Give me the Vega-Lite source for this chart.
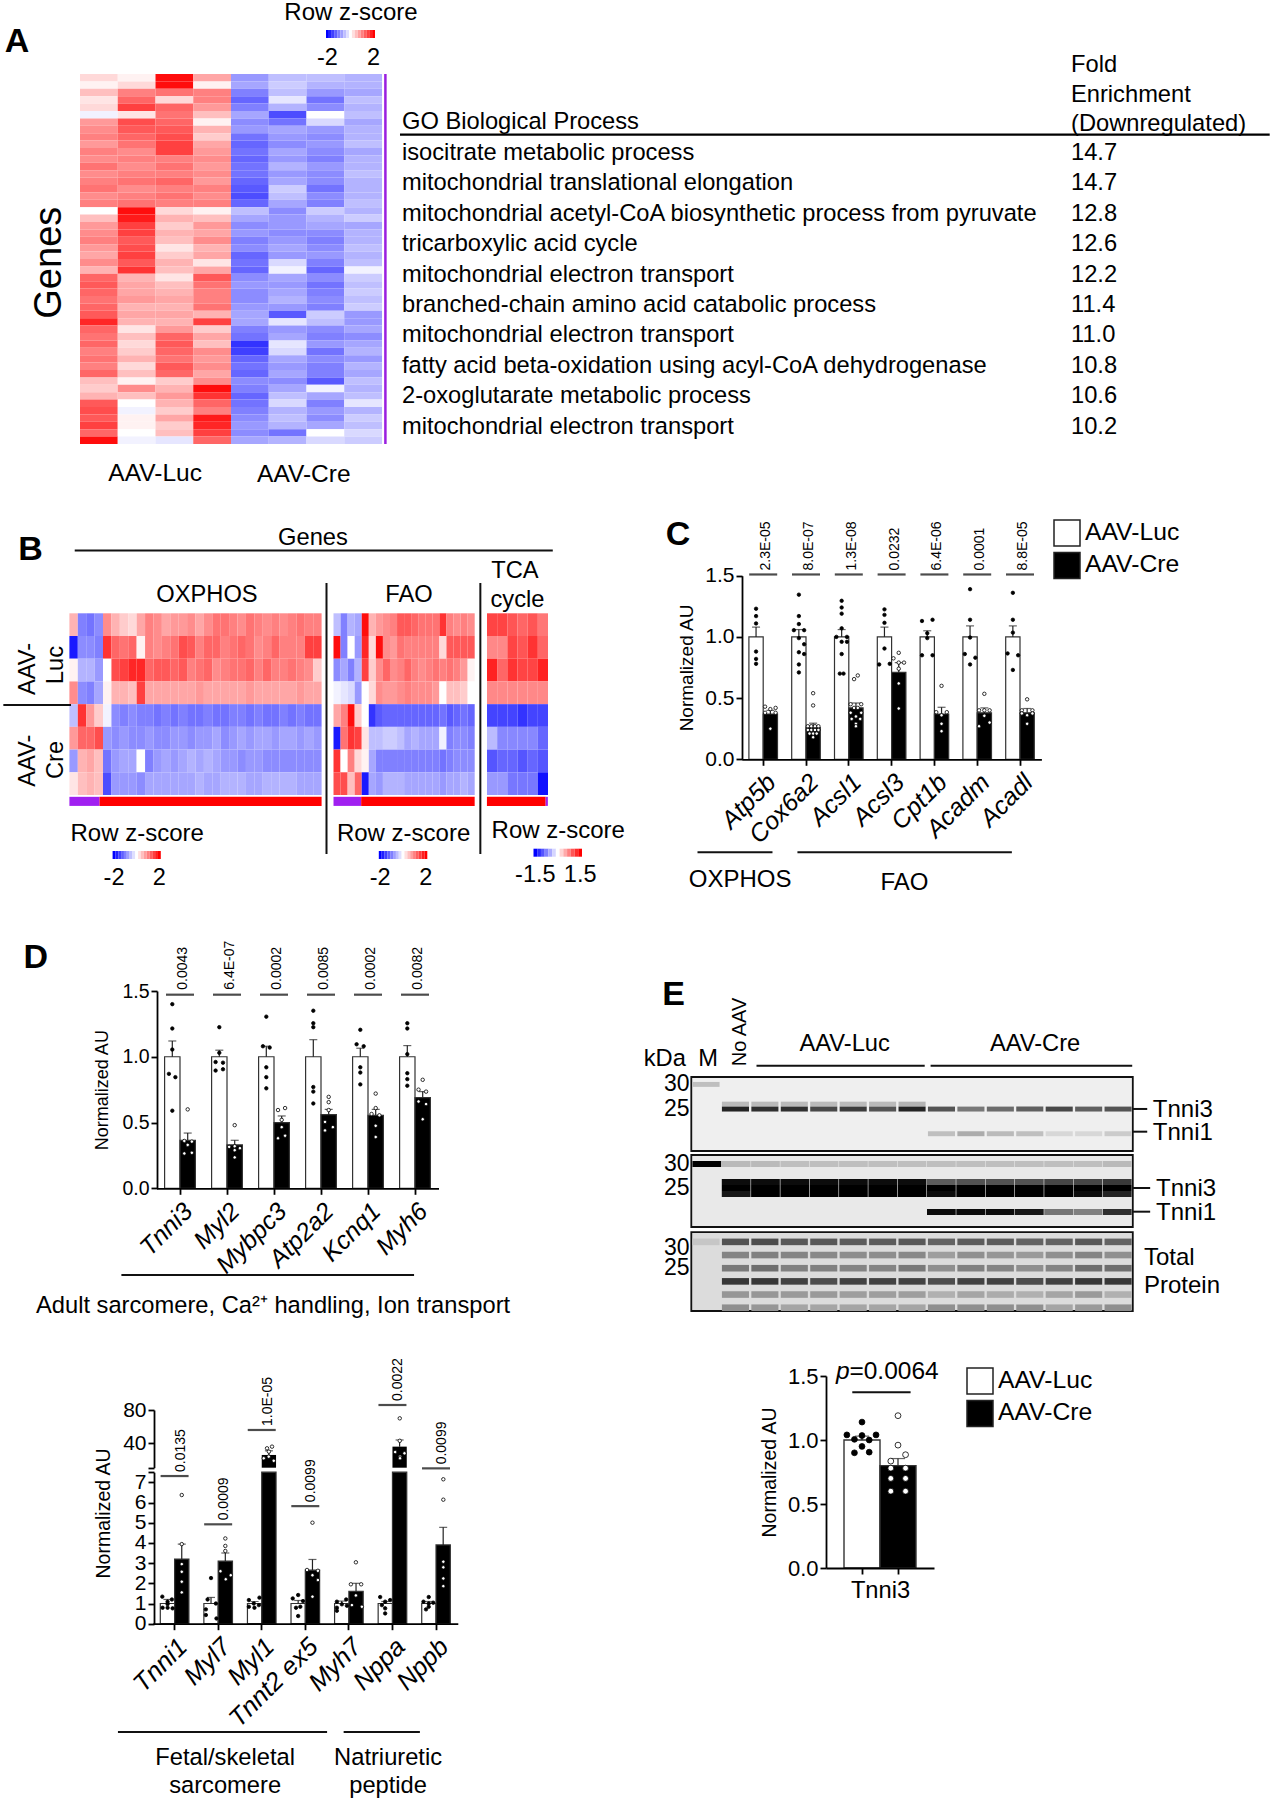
{"$schema":"https://vega.github.io/schema/vega-lite/v6.json","width":1272,"height":1800,"padding":0,"autosize":{"type":"none"},"background":"white",
"config":{"font":"Liberation Sans","view":{"stroke":null},"axis":{"grid":false,"domainColor":"#000","tickColor":"#000","domainWidth":1.8,"tickWidth":1.8,"tickSize":6,"labelColor":"#000","titleColor":"#000","titleFontWeight":"normal","labelOverlap":false,"labelBound":false,"labelFlush":false,"labelLimit":300}},
"resolve":{"scale":{"x":"independent","y":"independent","color":"independent","xOffset":"independent"},"axis":{"x":"independent","y":"independent"},"legend":{"color":"independent"}},
"datasets":{
"heatA":[{"r":1,"c":1,"z":0.3},{"r":1,"c":2,"z":0.1},{"r":1,"c":3,"z":1.9},{"r":1,"c":4,"z":0.7},{"r":1,"c":5,"z":-0.8},{"r":1,"c":6,"z":-0.5},{"r":1,"c":7,"z":-0.5},{"r":1,"c":8,"z":-0.6},
{"r":2,"c":1,"z":0.1},{"r":2,"c":2,"z":0.3},{"r":2,"c":3,"z":1.9},{"r":2,"c":4,"z":0.1},{"r":2,"c":5,"z":-0.7},{"r":2,"c":6,"z":-0.4},{"r":2,"c":7,"z":-0.6},{"r":2,"c":8,"z":-0.6},
{"r":3,"c":1,"z":0.5},{"r":3,"c":2,"z":1.0},{"r":3,"c":3,"z":1.1},{"r":3,"c":4,"z":1.0},{"r":3,"c":5,"z":-1.0},{"r":3,"c":6,"z":-0.5},{"r":3,"c":7,"z":-0.8},{"r":3,"c":8,"z":-0.7},
{"r":4,"c":1,"z":0.2},{"r":4,"c":2,"z":1.2},{"r":4,"c":3,"z":0.3},{"r":4,"c":4,"z":1.0},{"r":4,"c":5,"z":-1.2},{"r":4,"c":6,"z":-0.2},{"r":4,"c":7,"z":-1.1},{"r":4,"c":8,"z":-0.5},
{"r":5,"c":1,"z":0.3},{"r":5,"c":2,"z":1.5},{"r":5,"c":3,"z":1.2},{"r":5,"c":4,"z":0.8},{"r":5,"c":5,"z":-1.0},{"r":5,"c":6,"z":-0.6},{"r":5,"c":7,"z":-0.9},{"r":5,"c":8,"z":-0.6},
{"r":6,"c":1,"z":-0.1},{"r":6,"c":2,"z":0.2},{"r":6,"c":3,"z":1.1},{"r":6,"c":4,"z":0.5},{"r":6,"c":5,"z":-0.7},{"r":6,"c":6,"z":-1.4},{"r":6,"c":7,"z":0},{"r":6,"c":8,"z":-0.5},
{"r":7,"c":1,"z":0.8},{"r":7,"c":2,"z":1.4},{"r":7,"c":3,"z":1.2},{"r":7,"c":4,"z":0.1},{"r":7,"c":5,"z":-0.9},{"r":7,"c":6,"z":-1.1},{"r":7,"c":7,"z":-0.3},{"r":7,"c":8,"z":-0.7},
{"r":8,"c":1,"z":0.9},{"r":8,"c":2,"z":1.3},{"r":8,"c":3,"z":1.3},{"r":8,"c":4,"z":0.6},{"r":8,"c":5,"z":-0.8},{"r":8,"c":6,"z":-0.7},{"r":8,"c":7,"z":-0.8},{"r":8,"c":8,"z":-0.6},
{"r":9,"c":1,"z":1.0},{"r":9,"c":2,"z":1.2},{"r":9,"c":3,"z":1.4},{"r":9,"c":4,"z":0.4},{"r":9,"c":5,"z":-1.1},{"r":9,"c":6,"z":-0.8},{"r":9,"c":7,"z":-0.9},{"r":9,"c":8,"z":-0.6},
{"r":10,"c":1,"z":0.8},{"r":10,"c":2,"z":1.1},{"r":10,"c":3,"z":1.5},{"r":10,"c":4,"z":0.7},{"r":10,"c":5,"z":-1.2},{"r":10,"c":6,"z":-0.9},{"r":10,"c":7,"z":-0.8},{"r":10,"c":8,"z":-0.5},
{"r":11,"c":1,"z":1.0},{"r":11,"c":2,"z":0.9},{"r":11,"c":3,"z":1.5},{"r":11,"c":4,"z":0.8},{"r":11,"c":5,"z":-1.1},{"r":11,"c":6,"z":-0.7},{"r":11,"c":7,"z":-0.9},{"r":11,"c":8,"z":-0.7},
{"r":12,"c":1,"z":0.9},{"r":12,"c":2,"z":1.0},{"r":12,"c":3,"z":1.0},{"r":12,"c":4,"z":0.9},{"r":12,"c":5,"z":-1.2},{"r":12,"c":6,"z":-0.8},{"r":12,"c":7,"z":-1.0},{"r":12,"c":8,"z":-0.6},
{"r":13,"c":1,"z":1.1},{"r":13,"c":2,"z":0.9},{"r":13,"c":3,"z":1.1},{"r":13,"c":4,"z":0.8},{"r":13,"c":5,"z":-1.1},{"r":13,"c":6,"z":-0.6},{"r":13,"c":7,"z":-0.8},{"r":13,"c":8,"z":-0.6},
{"r":14,"c":1,"z":0.9},{"r":14,"c":2,"z":1.0},{"r":14,"c":3,"z":1.0},{"r":14,"c":4,"z":0.9},{"r":14,"c":5,"z":-1.1},{"r":14,"c":6,"z":-0.8},{"r":14,"c":7,"z":-0.9},{"r":14,"c":8,"z":-0.5},
{"r":15,"c":1,"z":1.0},{"r":15,"c":2,"z":1.1},{"r":15,"c":3,"z":1.2},{"r":15,"c":4,"z":0.8},{"r":15,"c":5,"z":-1.2},{"r":15,"c":6,"z":-0.7},{"r":15,"c":7,"z":-0.9},{"r":15,"c":8,"z":-0.6},
{"r":16,"c":1,"z":1.1},{"r":16,"c":2,"z":0.9},{"r":16,"c":3,"z":1.0},{"r":16,"c":4,"z":1.0},{"r":16,"c":5,"z":-1.3},{"r":16,"c":6,"z":-0.4},{"r":16,"c":7,"z":-1.1},{"r":16,"c":8,"z":-0.6},
{"r":17,"c":1,"z":0.9},{"r":17,"c":2,"z":1.0},{"r":17,"c":3,"z":1.1},{"r":17,"c":4,"z":0.9},{"r":17,"c":5,"z":-1.4},{"r":17,"c":6,"z":-0.5},{"r":17,"c":7,"z":-0.9},{"r":17,"c":8,"z":-0.6},
{"r":18,"c":1,"z":1.0},{"r":18,"c":2,"z":1.1},{"r":18,"c":3,"z":1.0},{"r":18,"c":4,"z":1.0},{"r":18,"c":5,"z":-1.2},{"r":18,"c":6,"z":-0.7},{"r":18,"c":7,"z":-1.0},{"r":18,"c":8,"z":-0.5},
{"r":19,"c":1,"z":0},{"r":19,"c":2,"z":1.9},{"r":19,"c":3,"z":0.3},{"r":19,"c":4,"z":0.1},{"r":19,"c":5,"z":-0.5},{"r":19,"c":6,"z":-0.9},{"r":19,"c":7,"z":-0.4},{"r":19,"c":8,"z":-0.6},
{"r":20,"c":1,"z":0.5},{"r":20,"c":2,"z":1.8},{"r":20,"c":3,"z":0.6},{"r":20,"c":4,"z":0.5},{"r":20,"c":5,"z":-0.7},{"r":20,"c":6,"z":-0.8},{"r":20,"c":7,"z":-0.6},{"r":20,"c":8,"z":-0.4},
{"r":21,"c":1,"z":0.8},{"r":21,"c":2,"z":1.5},{"r":21,"c":3,"z":0.4},{"r":21,"c":4,"z":0.8},{"r":21,"c":5,"z":-0.9},{"r":21,"c":6,"z":-0.8},{"r":21,"c":7,"z":-0.7},{"r":21,"c":8,"z":-0.7},
{"r":22,"c":1,"z":0.9},{"r":22,"c":2,"z":1.5},{"r":22,"c":3,"z":0.6},{"r":22,"c":4,"z":0.7},{"r":22,"c":5,"z":-0.8},{"r":22,"c":6,"z":-0.9},{"r":22,"c":7,"z":-0.9},{"r":22,"c":8,"z":-0.6},
{"r":23,"c":1,"z":1.0},{"r":23,"c":2,"z":1.3},{"r":23,"c":3,"z":0.5},{"r":23,"c":4,"z":0.9},{"r":23,"c":5,"z":-1.0},{"r":23,"c":6,"z":-0.8},{"r":23,"c":7,"z":-1.0},{"r":23,"c":8,"z":-0.6},
{"r":24,"c":1,"z":0.8},{"r":24,"c":2,"z":1.4},{"r":24,"c":3,"z":0.2},{"r":24,"c":4,"z":0.6},{"r":24,"c":5,"z":-0.9},{"r":24,"c":6,"z":-0.7},{"r":24,"c":7,"z":-0.9},{"r":24,"c":8,"z":-0.5},
{"r":25,"c":1,"z":0.7},{"r":25,"c":2,"z":1.5},{"r":25,"c":3,"z":0.4},{"r":25,"c":4,"z":0.7},{"r":25,"c":5,"z":-1.2},{"r":25,"c":6,"z":-0.8},{"r":25,"c":7,"z":-0.8},{"r":25,"c":8,"z":-0.6},
{"r":26,"c":1,"z":0.9},{"r":26,"c":2,"z":1.3},{"r":26,"c":3,"z":0.6},{"r":26,"c":4,"z":0.2},{"r":26,"c":5,"z":-1.1},{"r":26,"c":6,"z":-0.3},{"r":26,"c":7,"z":-1.0},{"r":26,"c":8,"z":-0.5},
{"r":27,"c":1,"z":0.6},{"r":27,"c":2,"z":1.6},{"r":27,"c":3,"z":0.5},{"r":27,"c":4,"z":0.7},{"r":27,"c":5,"z":-1.2},{"r":27,"c":6,"z":-0.1},{"r":27,"c":7,"z":-1.2},{"r":27,"c":8,"z":-0.1},
{"r":28,"c":1,"z":1.2},{"r":28,"c":2,"z":0.6},{"r":28,"c":3,"z":0.2},{"r":28,"c":4,"z":1.3},{"r":28,"c":5,"z":-0.9},{"r":28,"c":6,"z":-0.7},{"r":28,"c":7,"z":-0.9},{"r":28,"c":8,"z":-0.4},
{"r":29,"c":1,"z":1.3},{"r":29,"c":2,"z":0.7},{"r":29,"c":3,"z":0.5},{"r":29,"c":4,"z":1.1},{"r":29,"c":5,"z":-0.8},{"r":29,"c":6,"z":-0.8},{"r":29,"c":7,"z":-1.1},{"r":29,"c":8,"z":-0.5},
{"r":30,"c":1,"z":1.2},{"r":30,"c":2,"z":0.7},{"r":30,"c":3,"z":0.6},{"r":30,"c":4,"z":1.0},{"r":30,"c":5,"z":-0.9},{"r":30,"c":6,"z":-0.7},{"r":30,"c":7,"z":-1.0},{"r":30,"c":8,"z":-0.4},
{"r":31,"c":1,"z":1.1},{"r":31,"c":2,"z":0.8},{"r":31,"c":3,"z":0.7},{"r":31,"c":4,"z":1.0},{"r":31,"c":5,"z":-0.9},{"r":31,"c":6,"z":-0.6},{"r":31,"c":7,"z":-0.9},{"r":31,"c":8,"z":-0.5},
{"r":32,"c":1,"z":1.2},{"r":32,"c":2,"z":0.6},{"r":32,"c":3,"z":0.6},{"r":32,"c":4,"z":1.1},{"r":32,"c":5,"z":-0.8},{"r":32,"c":6,"z":-0.8},{"r":32,"c":7,"z":-1.0},{"r":32,"c":8,"z":-0.4},
{"r":33,"c":1,"z":1.3},{"r":33,"c":2,"z":0.7},{"r":33,"c":3,"z":0.7},{"r":33,"c":4,"z":0.6},{"r":33,"c":5,"z":-0.7},{"r":33,"c":6,"z":-1.3},{"r":33,"c":7,"z":-0.4},{"r":33,"c":8,"z":-0.8},
{"r":34,"c":1,"z":1.7},{"r":34,"c":2,"z":0.6},{"r":34,"c":3,"z":0.6},{"r":34,"c":4,"z":1.5},{"r":34,"c":5,"z":-0.7},{"r":34,"c":6,"z":-0.2},{"r":34,"c":7,"z":-0.5},{"r":34,"c":8,"z":-0.8},
{"r":35,"c":1,"z":1.2},{"r":35,"c":2,"z":0.2},{"r":35,"c":3,"z":0.8},{"r":35,"c":4,"z":0.4},{"r":35,"c":5,"z":-1.0},{"r":35,"c":6,"z":-0.8},{"r":35,"c":7,"z":-0.9},{"r":35,"c":8,"z":-0.7},
{"r":36,"c":1,"z":1.1},{"r":36,"c":2,"z":0.5},{"r":36,"c":3,"z":1.2},{"r":36,"c":4,"z":0.7},{"r":36,"c":5,"z":-1.1},{"r":36,"c":6,"z":-0.7},{"r":36,"c":7,"z":-1.0},{"r":36,"c":8,"z":-0.9},
{"r":37,"c":1,"z":1.2},{"r":37,"c":2,"z":0.3},{"r":37,"c":3,"z":1.3},{"r":37,"c":4,"z":0.5},{"r":37,"c":5,"z":-1.6},{"r":37,"c":6,"z":-0.2},{"r":37,"c":7,"z":-0.8},{"r":37,"c":8,"z":-0.7},
{"r":38,"c":1,"z":1.0},{"r":38,"c":2,"z":0.4},{"r":38,"c":3,"z":1.2},{"r":38,"c":4,"z":0.9},{"r":38,"c":5,"z":-1.5},{"r":38,"c":6,"z":-0.3},{"r":38,"c":7,"z":-1.1},{"r":38,"c":8,"z":-0.6},
{"r":39,"c":1,"z":1.1},{"r":39,"c":2,"z":0.6},{"r":39,"c":3,"z":1.1},{"r":39,"c":4,"z":0.8},{"r":39,"c":5,"z":-1.2},{"r":39,"c":6,"z":-0.7},{"r":39,"c":7,"z":-0.9},{"r":39,"c":8,"z":-0.8},
{"r":40,"c":1,"z":1.0},{"r":40,"c":2,"z":0.3},{"r":40,"c":3,"z":1.3},{"r":40,"c":4,"z":0.9},{"r":40,"c":5,"z":-1.1},{"r":40,"c":6,"z":-0.8},{"r":40,"c":7,"z":-1.0},{"r":40,"c":8,"z":-0.6},
{"r":41,"c":1,"z":1.2},{"r":41,"c":2,"z":0.5},{"r":41,"c":3,"z":1.2},{"r":41,"c":4,"z":0.7},{"r":41,"c":5,"z":-1.2},{"r":41,"c":6,"z":-0.7},{"r":41,"c":7,"z":-1.0},{"r":41,"c":8,"z":-0.7},
{"r":42,"c":1,"z":0.5},{"r":42,"c":2,"z":0.1},{"r":42,"c":3,"z":0.4},{"r":42,"c":4,"z":0.9},{"r":42,"c":5,"z":-0.9},{"r":42,"c":6,"z":-0.9},{"r":42,"c":7,"z":-1.3},{"r":42,"c":8,"z":-0.5},
{"r":43,"c":1,"z":0.4},{"r":43,"c":2,"z":0.9},{"r":43,"c":3,"z":0.6},{"r":43,"c":4,"z":1.9},{"r":43,"c":5,"z":-1.0},{"r":43,"c":6,"z":-0.7},{"r":43,"c":7,"z":-0.1},{"r":43,"c":8,"z":-0.6},
{"r":44,"c":1,"z":0.6},{"r":44,"c":2,"z":0.5},{"r":44,"c":3,"z":0.8},{"r":44,"c":4,"z":1.6},{"r":44,"c":5,"z":-1.2},{"r":44,"c":6,"z":-0.5},{"r":44,"c":7,"z":-0.7},{"r":44,"c":8,"z":-0.5},
{"r":45,"c":1,"z":1.3},{"r":45,"c":2,"z":0},{"r":45,"c":3,"z":0.6},{"r":45,"c":4,"z":1.2},{"r":45,"c":5,"z":-1.1},{"r":45,"c":6,"z":-0.3},{"r":45,"c":7,"z":-1.0},{"r":45,"c":8,"z":-0.2},
{"r":46,"c":1,"z":1.4},{"r":46,"c":2,"z":-0.1},{"r":46,"c":3,"z":0.4},{"r":46,"c":4,"z":1.0},{"r":46,"c":5,"z":-1.0},{"r":46,"c":6,"z":-0.6},{"r":46,"c":7,"z":-0.8},{"r":46,"c":8,"z":-0.6},
{"r":47,"c":1,"z":1.3},{"r":47,"c":2,"z":0.1},{"r":47,"c":3,"z":0.7},{"r":47,"c":4,"z":1.8},{"r":47,"c":5,"z":-0.9},{"r":47,"c":6,"z":-0.5},{"r":47,"c":7,"z":-0.9},{"r":47,"c":8,"z":-0.4},
{"r":48,"c":1,"z":1.5},{"r":48,"c":2,"z":0.1},{"r":48,"c":3,"z":0.4},{"r":48,"c":4,"z":1.7},{"r":48,"c":5,"z":-0.8},{"r":48,"c":6,"z":-0.6},{"r":48,"c":7,"z":-0.7},{"r":48,"c":8,"z":-0.5},
{"r":49,"c":1,"z":1.2},{"r":49,"c":2,"z":0},{"r":49,"c":3,"z":0.5},{"r":49,"c":4,"z":1.5},{"r":49,"c":5,"z":-0.9},{"r":49,"c":6,"z":-1.1},{"r":49,"c":7,"z":0},{"r":49,"c":8,"z":-0.3},
{"r":50,"c":1,"z":1.9},{"r":50,"c":2,"z":-0.1},{"r":50,"c":3,"z":-0.2},{"r":50,"c":4,"z":1.2},{"r":50,"c":5,"z":-0.7},{"r":50,"c":6,"z":-0.6},{"r":50,"c":7,"z":-0.3},{"r":50,"c":8,"z":-0.4}],
"heatOx":[{"r":1,"c":1,"z":0.6},{"r":1,"c":2,"z":-1.0},{"r":1,"c":3,"z":-1.1},{"r":1,"c":4,"z":-0.9},{"r":1,"c":5,"z":0.9},{"r":1,"c":6,"z":0.6},{"r":1,"c":7,"z":0.4},{"r":1,"c":8,"z":0.3},{"r":1,"c":9,"z":0.7},{"r":1,"c":10,"z":1.0},{"r":1,"c":11,"z":0.9},{"r":1,"c":12,"z":0.7},{"r":1,"c":13,"z":0.8},{"r":1,"c":14,"z":0.8},{"r":1,"c":15,"z":0.9},{"r":1,"c":16,"z":0.7},{"r":1,"c":17,"z":0.9},{"r":1,"c":18,"z":1.1},{"r":1,"c":19,"z":1.1},{"r":1,"c":20,"z":1.0},{"r":1,"c":21,"z":0.9},{"r":1,"c":22,"z":1.1},{"r":1,"c":23,"z":1.0},{"r":1,"c":24,"z":0.9},{"r":1,"c":25,"z":1.0},{"r":1,"c":26,"z":0.9},{"r":1,"c":27,"z":1.0},{"r":1,"c":28,"z":1.1},{"r":1,"c":29,"z":1.0},{"r":1,"c":30,"z":1.0},
{"r":2,"c":1,"z":-1.8},{"r":2,"c":2,"z":-0.9},{"r":2,"c":3,"z":-0.9},{"r":2,"c":4,"z":-1.0},{"r":2,"c":5,"z":1.6},{"r":2,"c":6,"z":1.2},{"r":2,"c":7,"z":1.1},{"r":2,"c":8,"z":1.2},{"r":2,"c":9,"z":0.1},{"r":2,"c":10,"z":1.0},{"r":2,"c":11,"z":0.9},{"r":2,"c":12,"z":1.0},{"r":2,"c":13,"z":1.1},{"r":2,"c":14,"z":1.4},{"r":2,"c":15,"z":1.3},{"r":2,"c":16,"z":1.0},{"r":2,"c":17,"z":1.2},{"r":2,"c":18,"z":1.2},{"r":2,"c":19,"z":1.0},{"r":2,"c":20,"z":1.1},{"r":2,"c":21,"z":1.2},{"r":2,"c":22,"z":1.1},{"r":2,"c":23,"z":0.9},{"r":2,"c":24,"z":1.0},{"r":2,"c":25,"z":1.2},{"r":2,"c":26,"z":1.0},{"r":2,"c":27,"z":1.0},{"r":2,"c":28,"z":1.0},{"r":2,"c":29,"z":1.5},{"r":2,"c":30,"z":1.5},
{"r":3,"c":1,"z":0.1},{"r":3,"c":2,"z":-0.6},{"r":3,"c":3,"z":-0.6},{"r":3,"c":4,"z":-0.8},{"r":3,"c":5,"z":0},{"r":3,"c":6,"z":1.4},{"r":3,"c":7,"z":1.5},{"r":3,"c":8,"z":1.7},{"r":3,"c":9,"z":1.7},{"r":3,"c":10,"z":1.2},{"r":3,"c":11,"z":1.3},{"r":3,"c":12,"z":1.3},{"r":3,"c":13,"z":1.2},{"r":3,"c":14,"z":1.3},{"r":3,"c":15,"z":1.0},{"r":3,"c":16,"z":1.1},{"r":3,"c":17,"z":1.2},{"r":3,"c":18,"z":0.9},{"r":3,"c":19,"z":1.0},{"r":3,"c":20,"z":1.1},{"r":3,"c":21,"z":1.1},{"r":3,"c":22,"z":1.2},{"r":3,"c":23,"z":1.0},{"r":3,"c":24,"z":1.2},{"r":3,"c":25,"z":1.0},{"r":3,"c":26,"z":1.0},{"r":3,"c":27,"z":1.1},{"r":3,"c":28,"z":1.0},{"r":3,"c":29,"z":0.9},{"r":3,"c":30,"z":0.4},
{"r":4,"c":1,"z":0.9},{"r":4,"c":2,"z":-0.9},{"r":4,"c":3,"z":-1.0},{"r":4,"c":4,"z":-0.7},{"r":4,"c":5,"z":0.1},{"r":4,"c":6,"z":0.6},{"r":4,"c":7,"z":0.6},{"r":4,"c":8,"z":0.5},{"r":4,"c":9,"z":1.5},{"r":4,"c":10,"z":0.7},{"r":4,"c":11,"z":0.7},{"r":4,"c":12,"z":0.7},{"r":4,"c":13,"z":0.7},{"r":4,"c":14,"z":0.7},{"r":4,"c":15,"z":0.7},{"r":4,"c":16,"z":0.8},{"r":4,"c":17,"z":0.7},{"r":4,"c":18,"z":0.7},{"r":4,"c":19,"z":0.7},{"r":4,"c":20,"z":0.7},{"r":4,"c":21,"z":0.7},{"r":4,"c":22,"z":0.8},{"r":4,"c":23,"z":0.7},{"r":4,"c":24,"z":0.7},{"r":4,"c":25,"z":0.7},{"r":4,"c":26,"z":0.7},{"r":4,"c":27,"z":0.7},{"r":4,"c":28,"z":0.8},{"r":4,"c":29,"z":0.7},{"r":4,"c":30,"z":0.7},
{"r":5,"c":1,"z":-0.5},{"r":5,"c":2,"z":1.6},{"r":5,"c":3,"z":0.8},{"r":5,"c":4,"z":0.4},{"r":5,"c":5,"z":-0.1},{"r":5,"c":6,"z":-0.9},{"r":5,"c":7,"z":-1.0},{"r":5,"c":8,"z":-0.9},{"r":5,"c":9,"z":-1.0},{"r":5,"c":10,"z":-1.0},{"r":5,"c":11,"z":-1.1},{"r":5,"c":12,"z":-1.0},{"r":5,"c":13,"z":-1.1},{"r":5,"c":14,"z":-1.0},{"r":5,"c":15,"z":-1.1},{"r":5,"c":16,"z":-1.1},{"r":5,"c":17,"z":-1.0},{"r":5,"c":18,"z":-1.1},{"r":5,"c":19,"z":-1.1},{"r":5,"c":20,"z":-1.0},{"r":5,"c":21,"z":-1.0},{"r":5,"c":22,"z":-1.1},{"r":5,"c":23,"z":-1.0},{"r":5,"c":24,"z":-1.1},{"r":5,"c":25,"z":-1.1},{"r":5,"c":26,"z":-1.0},{"r":5,"c":27,"z":-1.1},{"r":5,"c":28,"z":-1.0},{"r":5,"c":29,"z":-1.1},{"r":5,"c":30,"z":-1.1},
{"r":6,"c":1,"z":0.8},{"r":6,"c":2,"z":1.2},{"r":6,"c":3,"z":1.2},{"r":6,"c":4,"z":1.4},{"r":6,"c":5,"z":-0.8},{"r":6,"c":6,"z":-0.9},{"r":6,"c":7,"z":-0.8},{"r":6,"c":8,"z":-0.9},{"r":6,"c":9,"z":-0.9},{"r":6,"c":10,"z":-0.8},{"r":6,"c":11,"z":-0.9},{"r":6,"c":12,"z":-0.9},{"r":6,"c":13,"z":-0.8},{"r":6,"c":14,"z":-0.8},{"r":6,"c":15,"z":-0.9},{"r":6,"c":16,"z":-0.8},{"r":6,"c":17,"z":-0.8},{"r":6,"c":18,"z":-0.7},{"r":6,"c":19,"z":-0.9},{"r":6,"c":20,"z":-0.8},{"r":6,"c":21,"z":-0.7},{"r":6,"c":22,"z":-0.8},{"r":6,"c":23,"z":-0.7},{"r":6,"c":24,"z":-0.7},{"r":6,"c":25,"z":-0.8},{"r":6,"c":26,"z":-0.7},{"r":6,"c":27,"z":-0.7},{"r":6,"c":28,"z":-0.8},{"r":6,"c":29,"z":-0.7},{"r":6,"c":30,"z":-0.8},
{"r":7,"c":1,"z":-0.8},{"r":7,"c":2,"z":0.6},{"r":7,"c":3,"z":0.7},{"r":7,"c":4,"z":0.5},{"r":7,"c":5,"z":-1.1},{"r":7,"c":6,"z":-0.8},{"r":7,"c":7,"z":-0.7},{"r":7,"c":8,"z":-0.7},{"r":7,"c":9,"z":0},{"r":7,"c":10,"z":-1.0},{"r":7,"c":11,"z":-0.8},{"r":7,"c":12,"z":-0.7},{"r":7,"c":13,"z":-0.8},{"r":7,"c":14,"z":-0.7},{"r":7,"c":15,"z":-0.6},{"r":7,"c":16,"z":-0.7},{"r":7,"c":17,"z":-0.6},{"r":7,"c":18,"z":-0.7},{"r":7,"c":19,"z":-0.8},{"r":7,"c":20,"z":-0.8},{"r":7,"c":21,"z":-0.9},{"r":7,"c":22,"z":-0.8},{"r":7,"c":23,"z":-0.8},{"r":7,"c":24,"z":-0.9},{"r":7,"c":25,"z":-0.9},{"r":7,"c":26,"z":-0.9},{"r":7,"c":27,"z":-0.9},{"r":7,"c":28,"z":-0.9},{"r":7,"c":29,"z":-0.9},{"r":7,"c":30,"z":-0.9},
{"r":8,"c":1,"z":0.2},{"r":8,"c":2,"z":0.5},{"r":8,"c":3,"z":0.6},{"r":8,"c":4,"z":0.5},{"r":8,"c":5,"z":-1.4},{"r":8,"c":6,"z":-0.8},{"r":8,"c":7,"z":-0.8},{"r":8,"c":8,"z":-0.8},{"r":8,"c":9,"z":-0.9},{"r":8,"c":10,"z":-0.7},{"r":8,"c":11,"z":-0.7},{"r":8,"c":12,"z":-0.7},{"r":8,"c":13,"z":-0.7},{"r":8,"c":14,"z":-0.7},{"r":8,"c":15,"z":-0.7},{"r":8,"c":16,"z":-0.6},{"r":8,"c":17,"z":-0.7},{"r":8,"c":18,"z":-0.7},{"r":8,"c":19,"z":-0.6},{"r":8,"c":20,"z":-0.6},{"r":8,"c":21,"z":-0.6},{"r":8,"c":22,"z":-0.7},{"r":8,"c":23,"z":-0.7},{"r":8,"c":24,"z":-0.6},{"r":8,"c":25,"z":-0.6},{"r":8,"c":26,"z":-0.6},{"r":8,"c":27,"z":-0.6},{"r":8,"c":28,"z":-0.7},{"r":8,"c":29,"z":-0.7},{"r":8,"c":30,"z":-0.7}],
"heatFao":[{"r":1,"c":1,"z":-0.5},{"r":1,"c":2,"z":-1.0},{"r":1,"c":3,"z":-0.6},{"r":1,"c":4,"z":-0.7},{"r":1,"c":5,"z":1.9},{"r":1,"c":6,"z":0.6},{"r":1,"c":7,"z":0.8},{"r":1,"c":8,"z":0.9},{"r":1,"c":9,"z":1.0},{"r":1,"c":10,"z":1.3},{"r":1,"c":11,"z":1.3},{"r":1,"c":12,"z":1.2},{"r":1,"c":13,"z":1.1},{"r":1,"c":14,"z":1.1},{"r":1,"c":15,"z":1.1},{"r":1,"c":16,"z":1.6},{"r":1,"c":17,"z":1.0},{"r":1,"c":18,"z":0.9},{"r":1,"c":19,"z":1.0},{"r":1,"c":20,"z":0.9},
{"r":2,"c":1,"z":1.9},{"r":2,"c":2,"z":-1.0},{"r":2,"c":3,"z":0},{"r":2,"c":4,"z":-0.8},{"r":2,"c":5,"z":1.7},{"r":2,"c":6,"z":0.3},{"r":2,"c":7,"z":1.9},{"r":2,"c":8,"z":0.9},{"r":2,"c":9,"z":0.8},{"r":2,"c":10,"z":1.1},{"r":2,"c":11,"z":1.0},{"r":2,"c":12,"z":1.0},{"r":2,"c":13,"z":1.0},{"r":2,"c":14,"z":1.0},{"r":2,"c":15,"z":1.0},{"r":2,"c":16,"z":0.3},{"r":2,"c":17,"z":1.3},{"r":2,"c":18,"z":1.3},{"r":2,"c":19,"z":1.3},{"r":2,"c":20,"z":1.3},
{"r":3,"c":1,"z":-0.9},{"r":3,"c":2,"z":-0.7},{"r":3,"c":3,"z":-1.0},{"r":3,"c":4,"z":-0.6},{"r":3,"c":5,"z":1.5},{"r":3,"c":6,"z":0.4},{"r":3,"c":7,"z":0.9},{"r":3,"c":8,"z":1.2},{"r":3,"c":9,"z":0.9},{"r":3,"c":10,"z":1.0},{"r":3,"c":11,"z":1.2},{"r":3,"c":12,"z":1.0},{"r":3,"c":13,"z":0.9},{"r":3,"c":14,"z":1.0},{"r":3,"c":15,"z":1.1},{"r":3,"c":16,"z":1.0},{"r":3,"c":17,"z":1.1},{"r":3,"c":18,"z":1.0},{"r":3,"c":19,"z":0.8},{"r":3,"c":20,"z":0.1},
{"r":4,"c":1,"z":-0.1},{"r":4,"c":2,"z":-0.2},{"r":4,"c":3,"z":-0.3},{"r":4,"c":4,"z":-0.8},{"r":4,"c":5,"z":0},{"r":4,"c":6,"z":0.3},{"r":4,"c":7,"z":0.9},{"r":4,"c":8,"z":0.8},{"r":4,"c":9,"z":0.8},{"r":4,"c":10,"z":0.9},{"r":4,"c":11,"z":1.0},{"r":4,"c":12,"z":0.9},{"r":4,"c":13,"z":0.9},{"r":4,"c":14,"z":0.9},{"r":4,"c":15,"z":0.8},{"r":4,"c":16,"z":0},{"r":4,"c":17,"z":0.5},{"r":4,"c":18,"z":0.5},{"r":4,"c":19,"z":0.4},{"r":4,"c":20,"z":0},
{"r":5,"c":1,"z":0.7},{"r":5,"c":2,"z":1.0},{"r":5,"c":3,"z":1.9},{"r":5,"c":4,"z":0.4},{"r":5,"c":5,"z":0},{"r":5,"c":6,"z":-1.6},{"r":5,"c":7,"z":-1.3},{"r":5,"c":8,"z":-1.2},{"r":5,"c":9,"z":-1.2},{"r":5,"c":10,"z":-1.2},{"r":5,"c":11,"z":-1.2},{"r":5,"c":12,"z":-1.2},{"r":5,"c":13,"z":-1.2},{"r":5,"c":14,"z":-1.2},{"r":5,"c":15,"z":-1.2},{"r":5,"c":16,"z":-1.1},{"r":5,"c":17,"z":-1.3},{"r":5,"c":18,"z":-1.2},{"r":5,"c":19,"z":-1.1},{"r":5,"c":20,"z":-1.2},
{"r":6,"c":1,"z":-1.8},{"r":6,"c":2,"z":1.1},{"r":6,"c":3,"z":1.6},{"r":6,"c":4,"z":1.5},{"r":6,"c":5,"z":0.2},{"r":6,"c":6,"z":-0.5},{"r":6,"c":7,"z":-0.5},{"r":6,"c":8,"z":-0.4},{"r":6,"c":9,"z":-0.4},{"r":6,"c":10,"z":-0.5},{"r":6,"c":11,"z":-0.7},{"r":6,"c":12,"z":-0.6},{"r":6,"c":13,"z":-0.7},{"r":6,"c":14,"z":-0.7},{"r":6,"c":15,"z":-0.7},{"r":6,"c":16,"z":-0.1},{"r":6,"c":17,"z":-1.0},{"r":6,"c":18,"z":-0.9},{"r":6,"c":19,"z":-0.9},{"r":6,"c":20,"z":-1.0},
{"r":7,"c":1,"z":1.6},{"r":7,"c":2,"z":0},{"r":7,"c":3,"z":1.0},{"r":7,"c":4,"z":0.3},{"r":7,"c":5,"z":0.1},{"r":7,"c":6,"z":-0.7},{"r":7,"c":7,"z":-1.0},{"r":7,"c":8,"z":-1.0},{"r":7,"c":9,"z":-1.0},{"r":7,"c":10,"z":-1.0},{"r":7,"c":11,"z":-1.0},{"r":7,"c":12,"z":-1.0},{"r":7,"c":13,"z":-1.0},{"r":7,"c":14,"z":-1.0},{"r":7,"c":15,"z":-1.0},{"r":7,"c":16,"z":-1.1},{"r":7,"c":17,"z":-1.0},{"r":7,"c":18,"z":-0.9},{"r":7,"c":19,"z":-0.9},{"r":7,"c":20,"z":-0.9},
{"r":8,"c":1,"z":1.4},{"r":8,"c":2,"z":1.4},{"r":8,"c":3,"z":0.5},{"r":8,"c":4,"z":1.2},{"r":8,"c":5,"z":-1.8},{"r":8,"c":6,"z":-0.7},{"r":8,"c":7,"z":-0.8},{"r":8,"c":8,"z":-0.6},{"r":8,"c":9,"z":-0.6},{"r":8,"c":10,"z":-0.6},{"r":8,"c":11,"z":-0.7},{"r":8,"c":12,"z":-0.7},{"r":8,"c":13,"z":-0.7},{"r":8,"c":14,"z":-0.7},{"r":8,"c":15,"z":-0.7},{"r":8,"c":16,"z":-0.8},{"r":8,"c":17,"z":-0.7},{"r":8,"c":18,"z":-0.7},{"r":8,"c":19,"z":-0.6},{"r":8,"c":20,"z":-0.7}],
"heatTca":[{"r":1,"c":1,"z":1.1},{"r":1,"c":2,"z":1.1},{"r":1,"c":3,"z":1.0},{"r":1,"c":4,"z":0.9},{"r":1,"c":5,"z":1.0},{"r":1,"c":6,"z":0.8},{"r":2,"c":1,"z":0.7},{"r":2,"c":2,"z":0.7},{"r":2,"c":3,"z":1.1},{"r":2,"c":4,"z":1.0},{"r":2,"c":5,"z":1.2},{"r":2,"c":6,"z":0.9},{"r":3,"c":1,"z":1.3},{"r":3,"c":2,"z":0.9},{"r":3,"c":3,"z":1.2},{"r":3,"c":4,"z":1.1},{"r":3,"c":5,"z":1.1},{"r":3,"c":6,"z":1.3},{"r":4,"c":1,"z":0.7},{"r":4,"c":2,"z":0.7},{"r":4,"c":3,"z":0.7},{"r":4,"c":4,"z":0.7},{"r":4,"c":5,"z":0.7},{"r":4,"c":6,"z":0.7},{"r":5,"c":1,"z":-1.1},{"r":5,"c":2,"z":-1.1},{"r":5,"c":3,"z":-1.1},{"r":5,"c":4,"z":-1.2},{"r":5,"c":5,"z":-1.1},{"r":5,"c":6,"z":-1.1},{"r":6,"c":1,"z":-0.4},{"r":6,"c":2,"z":-0.7},{"r":6,"c":3,"z":-0.7},{"r":6,"c":4,"z":-0.7},{"r":6,"c":5,"z":-0.7},{"r":6,"c":6,"z":-0.9},{"r":7,"c":1,"z":-1.0},{"r":7,"c":2,"z":-0.9},{"r":7,"c":3,"z":-0.9},{"r":7,"c":4,"z":-1.0},{"r":7,"c":5,"z":-0.9},{"r":7,"c":6,"z":-1.0},{"r":8,"c":1,"z":-0.6},{"r":8,"c":2,"z":-0.6},{"r":8,"c":3,"z":-0.8},{"r":8,"c":4,"z":-0.8},{"r":8,"c":5,"z":-0.8},{"r":8,"c":6,"z":-1.4}],
"key":[{"z":-2},{"z":-1.75},{"z":-1.5},{"z":-1.25},{"z":-1},{"z":-0.75},{"z":-0.5},{"z":-0.25},{"z":0},{"z":0.25},{"z":0.5},{"z":0.75},{"z":1},{"z":1.25},{"z":1.5},{"z":1.75},{"z":2}],
"keyT":[{"z":-1.5},{"z":-1.25},{"z":-1},{"z":-0.75},{"z":-0.5},{"z":-0.25},{"z":0},{"z":0.25},{"z":0.5},{"z":0.75},{"z":1},{"z":1.25},{"z":1.5}],
"sideB":[{"u":0,"u2":4.31,"cl":"a"},{"u":4.31,"u2":36,"cl":"b"},{"u":37.7,"u2":41.65,"cl":"a"},{"u":41.65,"u2":57.85,"cl":"b"},{"u":59.6,"u2":67.98,"cl":"b"},{"u":67.98,"u2":68.3,"cl":"a"}],
"annA":[{"k":"h","t":"A","u":-1.67,"v":-4.6},{"k":"t","t":"AAV-Luc","u":1.99,"v":53.8},{"k":"t","t":"AAV-Cre","u":5.93,"v":54.05},{"k":"g","t":"Genes","u":-0.85,"v":25.5},{"k":"p","u":8.09,"u2":8.09,"v":0,"v2":50}],
"go":[{"rank":1,"process":"isocitrate metabolic process","fold":14.7},{"rank":2,"process":"mitochondrial translational elongation","fold":14.7},{"rank":3,"process":"mitochondrial acetyl-CoA biosynthetic process from pyruvate","fold":12.8},{"rank":4,"process":"tricarboxylic acid cycle","fold":12.6},{"rank":5,"process":"mitochondrial electron transport","fold":12.2},{"rank":6,"process":"branched-chain amino acid catabolic process","fold":11.4},{"rank":7,"process":"mitochondrial electron transport","fold":11.0},{"rank":8,"process":"fatty acid beta-oxidation using acyl-CoA dehydrogenase","fold":10.8},{"rank":9,"process":"2-oxoglutarate metabolic process","fold":10.6},{"rank":10,"process":"mitochondrial electron transport","fold":10.2}],
"goHead":[{"t":"GO Biological Process","col":0,"rank":-0.02},{"t":"Fold","col":1,"rank":-1.88},{"t":"Enrichment","col":1,"rank":-0.925},{"t":"(Downregulated)","col":1,"rank":0.03}],
"annB":[{"k":"h","t":"B","u":-5.54,"v":-2.79},{"k":"t","t":"Genes","u":34.77,"v":-3.4},{"k":"t","t":"OXPHOS","u":19.64,"v":-0.89},{"k":"t","t":"FAO","u":48.47,"v":-0.89},{"k":"t","t":"TCA","u":63.6,"v":-1.91},{"k":"t","t":"cycle","u":63.96,"v":-0.63},{"k":"r","t":"AAV-","u":-6.12,"v":2.45},{"k":"r","t":"Luc","u":-2.06,"v":2.28},{"k":"r","t":"AAV-","u":-6.12,"v":6.49},{"k":"r","t":"Cre","u":-2.06,"v":6.46},{"k":"l","u":0.76,"u2":69,"v":-2.76,"v2":-2.76},{"k":"l","u":-9.43,"u2":0.23,"v":4.04,"v2":4.04},{"k":"l","u":36.7,"u2":36.7,"v":-1.33,"v2":10.6},{"k":"l","u":58.66,"u2":58.66,"v":-1.33,"v2":10.6}],
"cBars":[{"gene":"Atp5b","group":"AAV-Luc","mean":1,"top":1.08},{"gene":"Atp5b","group":"AAV-Cre","mean":0.37,"top":0.4},{"gene":"Cox6a2","group":"AAV-Luc","mean":1,"top":1.06},{"gene":"Cox6a2","group":"AAV-Cre","mean":0.26,"top":0.295},{"gene":"Acsl1","group":"AAV-Luc","mean":1,"top":1.06},{"gene":"Acsl1","group":"AAV-Cre","mean":0.42,"top":0.46},{"gene":"Acsl3","group":"AAV-Luc","mean":1,"top":1.08},{"gene":"Acsl3","group":"AAV-Cre","mean":0.71,"top":0.79},{"gene":"Cpt1b","group":"AAV-Luc","mean":1,"top":1.05},{"gene":"Cpt1b","group":"AAV-Cre","mean":0.37,"top":0.425},{"gene":"Acadm","group":"AAV-Luc","mean":1,"top":1.09},{"gene":"Acadm","group":"AAV-Cre","mean":0.38,"top":0.42},{"gene":"Acadl","group":"AAV-Luc","mean":1,"top":1.09},{"gene":"Acadl","group":"AAV-Cre","mean":0.38,"top":0.415}],
"cP":[{"gene":"Atp5b","y":1.51,"p":"2.3E-05"},{"gene":"Cox6a2","y":1.51,"p":"8.0E-07"},{"gene":"Acsl1","y":1.51,"p":"1.3E-08"},{"gene":"Acsl3","y":1.51,"p":"0.0232"},{"gene":"Cpt1b","y":1.51,"p":"6.4E-06"},{"gene":"Acadm","y":1.51,"p":"0.0001"},{"gene":"Acadl","y":1.51,"p":"8.8E-05"}],
"cDots":[{"gene":"Atp5b","g":"L","j":-0.5,"v":1.23},{"gene":"Atp5b","g":"L","j":-0.5,"v":1.17},{"gene":"Atp5b","g":"L","j":-0.5,"v":1.11},{"gene":"Atp5b","g":"L","j":-0.5,"v":0.88},{"gene":"Atp5b","g":"L","j":-0.5,"v":0.82},{"gene":"Atp5b","g":"L","j":-0.5,"v":0.78},{"gene":"Atp5b","g":"C","j":0.13,"v":0.43},{"gene":"Atp5b","g":"C","j":0.5,"v":0.41},{"gene":"Atp5b","g":"C","j":0.87,"v":0.42},{"gene":"Atp5b","g":"C","j":0.13,"v":0.38},{"gene":"Atp5b","g":"C","j":0.87,"v":0.38},{"gene":"Atp5b","g":"C","j":0.5,"v":0.25},
{"gene":"Cox6a2","g":"L","j":-0.5,"v":1.345},{"gene":"Cox6a2","g":"L","j":-0.5,"v":1.17},{"gene":"Cox6a2","g":"L","j":-0.5,"v":1.105},{"gene":"Cox6a2","g":"L","j":-0.85,"v":1.055},{"gene":"Cox6a2","g":"L","j":-0.13,"v":1.055},{"gene":"Cox6a2","g":"L","j":-0.5,"v":0.99},{"gene":"Cox6a2","g":"L","j":-0.13,"v":0.94},{"gene":"Cox6a2","g":"L","j":-0.5,"v":0.875},{"gene":"Cox6a2","g":"L","j":-0.13,"v":0.86},{"gene":"Cox6a2","g":"L","j":-0.5,"v":0.775},{"gene":"Cox6a2","g":"L","j":-0.5,"v":0.71},{"gene":"Cox6a2","g":"C","j":0.5,"v":0.54},{"gene":"Cox6a2","g":"C","j":0.5,"v":0.44},{"gene":"Cox6a2","g":"C","j":0.13,"v":0.27},{"gene":"Cox6a2","g":"C","j":0.37,"v":0.27},{"gene":"Cox6a2","g":"C","j":0.63,"v":0.27},{"gene":"Cox6a2","g":"C","j":0.87,"v":0.27},{"gene":"Cox6a2","g":"C","j":0.13,"v":0.24},{"gene":"Cox6a2","g":"C","j":0.37,"v":0.24},{"gene":"Cox6a2","g":"C","j":0.63,"v":0.24},{"gene":"Cox6a2","g":"C","j":0.87,"v":0.24},{"gene":"Cox6a2","g":"C","j":0.25,"v":0.21},{"gene":"Cox6a2","g":"C","j":0.5,"v":0.21},{"gene":"Cox6a2","g":"C","j":0.75,"v":0.21},{"gene":"Cox6a2","g":"C","j":0.5,"v":0.18},
{"gene":"Acsl1","g":"L","j":-0.5,"v":1.295},{"gene":"Acsl1","g":"L","j":-0.5,"v":1.24},{"gene":"Acsl1","g":"L","j":-0.5,"v":1.19},{"gene":"Acsl1","g":"L","j":-0.5,"v":1.07},{"gene":"Acsl1","g":"L","j":-0.87,"v":1.0},{"gene":"Acsl1","g":"L","j":-0.13,"v":1.0},{"gene":"Acsl1","g":"L","j":-0.13,"v":0.96},{"gene":"Acsl1","g":"L","j":-0.5,"v":0.96},{"gene":"Acsl1","g":"L","j":-0.5,"v":0.86},{"gene":"Acsl1","g":"L","j":-0.63,"v":0.7},{"gene":"Acsl1","g":"L","j":-0.37,"v":0.7},{"gene":"Acsl1","g":"C","j":0.63,"v":0.685},{"gene":"Acsl1","g":"C","j":0.37,"v":0.655},{"gene":"Acsl1","g":"C","j":0.13,"v":0.45},{"gene":"Acsl1","g":"C","j":0.87,"v":0.45},{"gene":"Acsl1","g":"C","j":0.37,"v":0.42},{"gene":"Acsl1","g":"C","j":0.63,"v":0.42},{"gene":"Acsl1","g":"C","j":0.13,"v":0.38},{"gene":"Acsl1","g":"C","j":0.87,"v":0.38},{"gene":"Acsl1","g":"C","j":0.5,"v":0.35},{"gene":"Acsl1","g":"C","j":0.2,"v":0.33},{"gene":"Acsl1","g":"C","j":0.8,"v":0.33},{"gene":"Acsl1","g":"C","j":0.5,"v":0.29},{"gene":"Acsl1","g":"C","j":0.5,"v":0.27},
{"gene":"Acsl3","g":"L","j":-0.5,"v":1.225},{"gene":"Acsl3","g":"L","j":-0.5,"v":1.18},{"gene":"Acsl3","g":"L","j":-0.5,"v":1.115},{"gene":"Acsl3","g":"L","j":-0.5,"v":0.905},{"gene":"Acsl3","g":"L","j":-0.87,"v":0.775},{"gene":"Acsl3","g":"L","j":-0.13,"v":0.78},{"gene":"Acsl3","g":"C","j":0.5,"v":0.87},{"gene":"Acsl3","g":"C","j":0.13,"v":0.825},{"gene":"Acsl3","g":"C","j":0.87,"v":0.79},{"gene":"Acsl3","g":"C","j":0.5,"v":0.79},{"gene":"Acsl3","g":"C","j":0.5,"v":0.74},{"gene":"Acsl3","g":"C","j":0.5,"v":0.62},{"gene":"Acsl3","g":"C","j":0.5,"v":0.415},
{"gene":"Cpt1b","g":"L","j":-0.87,"v":1.13},{"gene":"Cpt1b","g":"L","j":-0.13,"v":1.14},{"gene":"Cpt1b","g":"L","j":-0.5,"v":1.03},{"gene":"Cpt1b","g":"L","j":-0.5,"v":0.99},{"gene":"Cpt1b","g":"L","j":-0.87,"v":0.85},{"gene":"Cpt1b","g":"L","j":-0.13,"v":0.85},{"gene":"Cpt1b","g":"C","j":0.5,"v":0.6},{"gene":"Cpt1b","g":"C","j":0.13,"v":0.385},{"gene":"Cpt1b","g":"C","j":0.87,"v":0.385},{"gene":"Cpt1b","g":"C","j":0.5,"v":0.36},{"gene":"Cpt1b","g":"C","j":0.5,"v":0.29},{"gene":"Cpt1b","g":"C","j":0.5,"v":0.23},
{"gene":"Acadm","g":"L","j":-0.5,"v":1.39},{"gene":"Acadm","g":"L","j":-0.5,"v":1.14},{"gene":"Acadm","g":"L","j":-0.5,"v":0.995},{"gene":"Acadm","g":"L","j":-0.87,"v":0.86},{"gene":"Acadm","g":"L","j":-0.13,"v":0.83},{"gene":"Acadm","g":"L","j":-0.5,"v":0.775},{"gene":"Acadm","g":"C","j":0.5,"v":0.535},{"gene":"Acadm","g":"C","j":0.13,"v":0.4},{"gene":"Acadm","g":"C","j":0.87,"v":0.4},{"gene":"Acadm","g":"C","j":0.5,"v":0.4},{"gene":"Acadm","g":"C","j":0.5,"v":0.355},{"gene":"Acadm","g":"C","j":0.87,"v":0.3},{"gene":"Acadm","g":"C","j":0.13,"v":0.27},
{"gene":"Acadl","g":"L","j":-0.5,"v":1.36},{"gene":"Acadl","g":"L","j":-0.5,"v":1.14},{"gene":"Acadl","g":"L","j":-0.5,"v":1.035},{"gene":"Acadl","g":"L","j":-0.87,"v":0.865},{"gene":"Acadl","g":"L","j":-0.13,"v":0.85},{"gene":"Acadl","g":"L","j":-0.5,"v":0.73},{"gene":"Acadl","g":"C","j":0.5,"v":0.49},{"gene":"Acadl","g":"C","j":0.13,"v":0.4},{"gene":"Acadl","g":"C","j":0.87,"v":0.4},{"gene":"Acadl","g":"C","j":0.13,"v":0.375},{"gene":"Acadl","g":"C","j":0.87,"v":0.375},{"gene":"Acadl","g":"C","j":0.5,"v":0.36},{"gene":"Acadl","g":"C","j":0.5,"v":0.29}],
"annC":[{"k":"h","t":"C","u":-1.49,"v":1.83},{"k":"t","t":"OXPHOS","u":-0.04,"v":-0.97},{"k":"t","t":"FAO","u":3.8,"v":-0.995},{"k":"l","u":-1.035,"u2":0.717,"v":-0.76,"v2":-0.76},{"k":"l","u":1.3,"u2":6.31,"v":-0.76,"v2":-0.76}],
"dBars":[{"gene":"Tnni3","group":"AAV-Luc","mean":1,"top":1.12},{"gene":"Tnni3","group":"AAV-Cre","mean":0.365,"top":0.42},{"gene":"Myl2","group":"AAV-Luc","mean":1,"top":1.05},{"gene":"Myl2","group":"AAV-Cre","mean":0.33,"top":0.365},{"gene":"Mybpc3","group":"AAV-Luc","mean":1,"top":1.08},{"gene":"Mybpc3","group":"AAV-Cre","mean":0.5,"top":0.55},{"gene":"Atp2a2","group":"AAV-Luc","mean":1,"top":1.13},{"gene":"Atp2a2","group":"AAV-Cre","mean":0.56,"top":0.6},{"gene":"Kcnq1","group":"AAV-Luc","mean":1,"top":1.065},{"gene":"Kcnq1","group":"AAV-Cre","mean":0.555,"top":0.6},{"gene":"Myh6","group":"AAV-Luc","mean":1,"top":1.085},{"gene":"Myh6","group":"AAV-Cre","mean":0.69,"top":0.735}],
"dP":[{"gene":"Tnni3","y":1.472,"p":"0.0043"},{"gene":"Myl2","y":1.472,"p":"6.4E-07"},{"gene":"Mybpc3","y":1.472,"p":"0.0002"},{"gene":"Atp2a2","y":1.472,"p":"0.0085"},{"gene":"Kcnq1","y":1.472,"p":"0.0002"},{"gene":"Myh6","y":1.472,"p":"0.0082"}],
"dDots":[{"gene":"Tnni3","g":"L","j":-0.5,"v":1.4},{"gene":"Tnni3","g":"L","j":-0.5,"v":1.215},{"gene":"Tnni3","g":"L","j":-0.5,"v":1.055},{"gene":"Tnni3","g":"L","j":-0.72,"v":0.87},{"gene":"Tnni3","g":"L","j":-0.3,"v":0.845},{"gene":"Tnni3","g":"L","j":-0.5,"v":0.59},{"gene":"Tnni3","g":"C","j":0.5,"v":0.6},{"gene":"Tnni3","g":"C","j":0.28,"v":0.36},{"gene":"Tnni3","g":"C","j":0.77,"v":0.355},{"gene":"Tnni3","g":"C","j":0.5,"v":0.33},{"gene":"Tnni3","g":"C","j":0.28,"v":0.265},{"gene":"Tnni3","g":"C","j":0.77,"v":0.27},
{"gene":"Myl2","g":"L","j":-0.5,"v":1.225},{"gene":"Myl2","g":"L","j":-0.5,"v":1.03},{"gene":"Myl2","g":"L","j":-0.74,"v":0.96},{"gene":"Myl2","g":"L","j":-0.26,"v":0.955},{"gene":"Myl2","g":"L","j":-0.26,"v":0.905},{"gene":"Myl2","g":"L","j":-0.74,"v":0.895},{"gene":"Myl2","g":"C","j":0.5,"v":0.48},{"gene":"Myl2","g":"C","j":0.14,"v":0.315},{"gene":"Myl2","g":"C","j":0.84,"v":0.305},{"gene":"Myl2","g":"C","j":0.5,"v":0.32},{"gene":"Myl2","g":"C","j":0.5,"v":0.29},{"gene":"Myl2","g":"C","j":0.5,"v":0.235},
{"gene":"Mybpc3","g":"L","j":-0.5,"v":1.305},{"gene":"Mybpc3","g":"L","j":-0.72,"v":1.08},{"gene":"Mybpc3","g":"L","j":-0.28,"v":1.07},{"gene":"Mybpc3","g":"L","j":-0.5,"v":0.92},{"gene":"Mybpc3","g":"L","j":-0.5,"v":0.845},{"gene":"Mybpc3","g":"L","j":-0.5,"v":0.76},{"gene":"Mybpc3","g":"C","j":0.26,"v":0.595},{"gene":"Mybpc3","g":"C","j":0.72,"v":0.61},{"gene":"Mybpc3","g":"C","j":0.5,"v":0.52},{"gene":"Mybpc3","g":"C","j":0.5,"v":0.465},{"gene":"Mybpc3","g":"C","j":0.72,"v":0.4},{"gene":"Mybpc3","g":"C","j":0.26,"v":0.38},
{"gene":"Atp2a2","g":"L","j":-0.5,"v":1.35},{"gene":"Atp2a2","g":"L","j":-0.5,"v":1.255},{"gene":"Atp2a2","g":"L","j":-0.5,"v":1.225},{"gene":"Atp2a2","g":"L","j":-0.5,"v":0.77},{"gene":"Atp2a2","g":"L","j":-0.5,"v":0.735},{"gene":"Atp2a2","g":"L","j":-0.5,"v":0.645},{"gene":"Atp2a2","g":"C","j":0.5,"v":0.695},{"gene":"Atp2a2","g":"C","j":0.5,"v":0.655},{"gene":"Atp2a2","g":"C","j":0.5,"v":0.595},{"gene":"Atp2a2","g":"C","j":0.26,"v":0.505},{"gene":"Atp2a2","g":"C","j":0.77,"v":0.465},{"gene":"Atp2a2","g":"C","j":0.26,"v":0.44},
{"gene":"Kcnq1","g":"L","j":-0.5,"v":1.205},{"gene":"Kcnq1","g":"L","j":-0.74,"v":1.095},{"gene":"Kcnq1","g":"L","j":-0.28,"v":1.08},{"gene":"Kcnq1","g":"L","j":-0.5,"v":0.92},{"gene":"Kcnq1","g":"L","j":-0.5,"v":0.88},{"gene":"Kcnq1","g":"L","j":-0.5,"v":0.79},{"gene":"Kcnq1","g":"C","j":0.5,"v":0.72},{"gene":"Kcnq1","g":"C","j":0.5,"v":0.61},{"gene":"Kcnq1","g":"C","j":0.23,"v":0.565},{"gene":"Kcnq1","g":"C","j":0.74,"v":0.555},{"gene":"Kcnq1","g":"C","j":0.5,"v":0.475},{"gene":"Kcnq1","g":"C","j":0.5,"v":0.39},
{"gene":"Myh6","g":"L","j":-0.5,"v":1.255},{"gene":"Myh6","g":"L","j":-0.5,"v":1.215},{"gene":"Myh6","g":"L","j":-0.5,"v":1.02},{"gene":"Myh6","g":"L","j":-0.5,"v":0.875},{"gene":"Myh6","g":"L","j":-0.5,"v":0.83},{"gene":"Myh6","g":"L","j":-0.5,"v":0.78},{"gene":"Myh6","g":"C","j":0.5,"v":0.825},{"gene":"Myh6","g":"C","j":0.23,"v":0.75},{"gene":"Myh6","g":"C","j":0.72,"v":0.735},{"gene":"Myh6","g":"C","j":0.23,"v":0.66},{"gene":"Myh6","g":"C","j":0.72,"v":0.64},{"gene":"Myh6","g":"C","j":0.5,"v":0.525}],
"annD":[{"k":"h","t":"D","u":-2.57,"v":1.76},{"k":"t","t":"Adult sarcomere, Ca²⁺ handling, Ion transport","u":2.48,"v":-0.887},{"k":"l","u":-0.747,"u2":5.48,"v":-0.659,"v2":-0.659}],
"fBars":[{"gene":"Tnni1","group":"AAV-Luc","mean":1,"top":1.2},{"gene":"Tnni1","group":"AAV-Cre","mean":3.2,"top":3.94},{"gene":"Myl7","group":"AAV-Luc","mean":1,"top":1.3},{"gene":"Myl7","group":"AAV-Cre","mean":3.1,"top":3.5},{"gene":"Myl1","group":"AAV-Luc","mean":1,"top":1.1},{"gene":"Myl1","group":"AAV-Cre","mean":26,"top":31},{"gene":"Tnnt2 ex5","group":"AAV-Luc","mean":1,"top":1.15},{"gene":"Tnnt2 ex5","group":"AAV-Cre","mean":2.65,"top":3.18},{"gene":"Myh7","group":"AAV-Luc","mean":1,"top":1.12},{"gene":"Myh7","group":"AAV-Cre","mean":1.6,"top":2.0},{"gene":"Nppa","group":"AAV-Luc","mean":1,"top":1.1},{"gene":"Nppa","group":"AAV-Cre","mean":36,"top":44},{"gene":"Nppb","group":"AAV-Luc","mean":1,"top":1.1},{"gene":"Nppb","group":"AAV-Cre","mean":3.9,"top":4.77}],
"fP":[{"gene":"Tnni1","y":7.31,"p":"0.0135"},{"gene":"Myl7","y":4.92,"p":"0.0009"},{"gene":"Myl1","y":56,"p":"1.0E-05"},{"gene":"Tnnt2 ex5","y":5.82,"p":"0.0099"},{"gene":"Nppa","y":86,"p":"0.0022"},{"gene":"Nppb","y":7.69,"p":"0.0099"}],
"fDots":[{"gene":"Tnni1","g":"L","j":-0.86,"v":1.34},{"gene":"Tnni1","g":"L","j":-0.19,"v":1.2},{"gene":"Tnni1","g":"L","j":-0.49,"v":1.09},{"gene":"Tnni1","g":"L","j":-0.49,"v":0.97},{"gene":"Tnni1","g":"L","j":-0.84,"v":0.79},{"gene":"Tnni1","g":"L","j":-0.49,"v":0.79},{"gene":"Tnni1","g":"L","j":-0.14,"v":0.76},{"gene":"Tnni1","g":"C","j":0.5,"v":6.37},{"gene":"Tnni1","g":"C","j":0.5,"v":3.94},{"gene":"Tnni1","g":"C","j":0.5,"v":2.95},{"gene":"Tnni1","g":"C","j":0.5,"v":2.57},{"gene":"Tnni1","g":"C","j":0.5,"v":2.08},{"gene":"Tnni1","g":"C","j":0.5,"v":1.55},
{"gene":"Myl7","g":"L","j":-0.5,"v":2.26},{"gene":"Myl7","g":"L","j":-0.74,"v":1.2},{"gene":"Myl7","g":"L","j":-0.16,"v":1.0},{"gene":"Myl7","g":"L","j":-0.86,"v":0.71},{"gene":"Myl7","g":"L","j":-0.86,"v":0.43},{"gene":"Myl7","g":"L","j":-0.12,"v":0.26},{"gene":"Myl7","g":"C","j":0.5,"v":4.22},{"gene":"Myl7","g":"C","j":0.5,"v":3.85},{"gene":"Myl7","g":"C","j":0.5,"v":3.6},{"gene":"Myl7","g":"C","j":0.16,"v":2.6},{"gene":"Myl7","g":"C","j":0.88,"v":2.4},{"gene":"Myl7","g":"C","j":0.53,"v":2.2},
{"gene":"Myl1","g":"L","j":-0.16,"v":1.29},{"gene":"Myl1","g":"L","j":-0.9,"v":1.17},{"gene":"Myl1","g":"L","j":-0.56,"v":1.0},{"gene":"Myl1","g":"L","j":-0.2,"v":0.92},{"gene":"Myl1","g":"L","j":-0.9,"v":0.84},{"gene":"Myl1","g":"L","j":-0.51,"v":0.79},{"gene":"Myl1","g":"C","j":0.37,"v":34},{"gene":"Myl1","g":"C","j":0.72,"v":36},{"gene":"Myl1","g":"C","j":0.5,"v":30},{"gene":"Myl1","g":"C","j":0.14,"v":22},{"gene":"Myl1","g":"C","j":0.84,"v":19},{"gene":"Myl1","g":"C","j":0.49,"v":24},
{"gene":"Tnnt2 ex5","g":"L","j":-0.5,"v":1.42},{"gene":"Tnnt2 ex5","g":"L","j":-0.88,"v":1.25},{"gene":"Tnnt2 ex5","g":"L","j":-0.16,"v":1.12},{"gene":"Tnnt2 ex5","g":"L","j":-0.35,"v":0.84},{"gene":"Tnnt2 ex5","g":"L","j":-0.65,"v":0.79},{"gene":"Tnnt2 ex5","g":"L","j":-0.5,"v":0.38},{"gene":"Tnnt2 ex5","g":"C","j":0.5,"v":5},{"gene":"Tnnt2 ex5","g":"C","j":0.12,"v":2.66},{"gene":"Tnnt2 ex5","g":"C","j":0.88,"v":2.62},{"gene":"Tnnt2 ex5","g":"C","j":0.5,"v":2.4},{"gene":"Tnnt2 ex5","g":"C","j":0.88,"v":2.16},{"gene":"Tnnt2 ex5","g":"C","j":0.5,"v":1.34},
{"gene":"Myh7","g":"L","j":-0.19,"v":1.2},{"gene":"Myh7","g":"L","j":-0.84,"v":1.09},{"gene":"Myh7","g":"L","j":-0.49,"v":0.96},{"gene":"Myh7","g":"L","j":-0.14,"v":0.89},{"gene":"Myh7","g":"L","j":-0.84,"v":0.79},{"gene":"Myh7","g":"L","j":-0.84,"v":0.64},{"gene":"Myh7","g":"C","j":0.49,"v":3.04},{"gene":"Myh7","g":"C","j":0.14,"v":1.95},{"gene":"Myh7","g":"C","j":0.86,"v":1.95},{"gene":"Myh7","g":"C","j":0.49,"v":1.4},{"gene":"Myh7","g":"C","j":0.21,"v":0.92},{"gene":"Myh7","g":"C","j":0.91,"v":0.84},
{"gene":"Nppa","g":"L","j":-0.86,"v":1.32},{"gene":"Nppa","g":"L","j":-0.16,"v":1.17},{"gene":"Nppa","g":"L","j":-0.51,"v":1.09},{"gene":"Nppa","g":"L","j":-0.74,"v":0.92},{"gene":"Nppa","g":"L","j":-0.51,"v":0.76},{"gene":"Nppa","g":"L","j":-0.51,"v":0.51},{"gene":"Nppa","g":"C","j":0.51,"v":70},{"gene":"Nppa","g":"C","j":0.51,"v":43},{"gene":"Nppa","g":"C","j":0.19,"v":29.5},{"gene":"Nppa","g":"C","j":0.84,"v":28},{"gene":"Nppa","g":"C","j":0.53,"v":24},{"gene":"Nppa","g":"C","j":0.53,"v":22},
{"gene":"Nppb","g":"L","j":-0.51,"v":1.32},{"gene":"Nppb","g":"L","j":-0.88,"v":1.09},{"gene":"Nppb","g":"L","j":-0.19,"v":1.04},{"gene":"Nppb","g":"L","j":-0.51,"v":1.0},{"gene":"Nppb","g":"L","j":-0.51,"v":0.84},{"gene":"Nppb","g":"L","j":-0.7,"v":0.71},{"gene":"Nppb","g":"C","j":0.51,"v":7.15},{"gene":"Nppb","g":"C","j":0.51,"v":6.14},{"gene":"Nppb","g":"C","j":0.51,"v":3.07},{"gene":"Nppb","g":"C","j":0.51,"v":2.79},{"gene":"Nppb","g":"C","j":0.51,"v":2.24},{"gene":"Nppb","g":"C","j":0.51,"v":1.86}],
"annF":[{"k":"t","t":"Fetal/skeletal","u":1.66,"v":-6.55},{"k":"t","t":"sarcomere","u":1.66,"v":-7.94},{"k":"t","t":"Natriuretic","u":5.4,"v":-6.55},{"k":"t","t":"peptide","u":5.4,"v":-7.94},{"k":"l","u":-0.8,"u2":4.0,"v":-5.36,"v2":-5.36},{"k":"l","u":4.38,"u2":6.13,"v":-5.36,"v2":-5.36}],
"eBars":[{"group":"AAV-Luc","mean":1,"top":1.03},{"group":"AAV-Cre","mean":0.8,"top":0.855}],
"eDots":[{"group":"AAV-Luc","j":0,"v":1.14},{"group":"AAV-Luc","j":-0.42,"v":1.04},{"group":"AAV-Luc","j":0.39,"v":1.04},{"group":"AAV-Luc","j":0,"v":1.035},{"group":"AAV-Luc","j":-0.21,"v":1.005},{"group":"AAV-Luc","j":0.2,"v":1.0},{"group":"AAV-Luc","j":0,"v":0.95},{"group":"AAV-Luc","j":-0.21,"v":0.9},{"group":"AAV-Luc","j":0.2,"v":0.905},{"group":"AAV-Cre","j":0,"v":1.19},{"group":"AAV-Cre","j":0,"v":0.96},{"group":"AAV-Cre","j":0.21,"v":0.885},{"group":"AAV-Cre","j":-0.2,"v":0.835},{"group":"AAV-Cre","j":-0.2,"v":0.78},{"group":"AAV-Cre","j":0.21,"v":0.78},{"group":"AAV-Cre","j":-0.2,"v":0.7},{"group":"AAV-Cre","j":0.21,"v":0.7},{"group":"AAV-Cre","j":-0.2,"v":0.6},{"group":"AAV-Cre","j":0.21,"v":0.6}],
"annE":[{"k":"l","u":0.23,"u2":1.85,"v":1.373,"v2":1.373},{"k":"pi","t":"p","u":-0.22,"v":1.534},{"k":"pv","t":"=0.0064","u":0.15,"v":1.534}],
"frames":[{"b":"1","u":0,"u2":15,"v":0,"v2":1},{"b":"2","u":0,"u2":15,"v":1.054,"v2":2.027},{"b":"3","u":0,"u2":15,"v":2.095,"v2":3.162}],
"annBlot":[{"k":"h","t":"E","u":-0.6,"v":-1.135},{"k":"t","t":"kDa","u":-0.9,"v":-0.27},{"k":"t","t":"M","u":0.57,"v":-0.27},{"k":"s","t":"No AAV","u":1.65,"v":-0.608},{"k":"t","t":"AAV-Luc","u":5.21,"v":-0.46},{"k":"t","t":"AAV-Cre","u":11.68,"v":-0.46},{"k":"l","u":2.215,"u2":7.93,"v":-0.153,"v2":-0.153},{"k":"l","u":8.13,"u2":14.98,"v":-0.153,"v2":-0.153},{"k":"a","t":"Tnni3","u":15.68,"v":0.432},{"k":"a","t":"Tnni1","u":15.68,"v":0.739},{"k":"a","t":"Tnni3","u":15.79,"v":1.5},{"k":"a","t":"Tnni1","u":15.79,"v":1.82},{"k":"a","t":"Total","u":15.38,"v":2.428},{"k":"a","t":"Protein","u":15.38,"v":2.81},{"k":"l","u":15.0,"u2":15.49,"v":0.432,"v2":0.432},{"k":"l","u":15.0,"u2":15.49,"v":0.739,"v2":0.739},{"k":"l","u":15.0,"u2":15.59,"v":1.5,"v2":1.5},{"k":"l","u":15.0,"u2":15.59,"v":1.82,"v2":1.82}],
"blot1":[{"l":1,"r":1,"d":0.2},{"l":2,"r":5,"d":0.22},{"l":3,"r":5,"d":0.22},{"l":4,"r":5,"d":0.22},{"l":5,"r":5,"d":0.22},{"l":6,"r":5,"d":0.22},{"l":7,"r":5,"d":0.22},{"l":8,"r":5,"d":0.25},{"l":2,"r":6,"d":0.85},{"l":3,"r":6,"d":0.8},{"l":4,"r":6,"d":0.8},{"l":5,"r":6,"d":0.7},{"l":6,"r":6,"d":0.75},{"l":7,"r":6,"d":0.65},{"l":8,"r":6,"d":0.85},{"l":9,"r":6,"d":0.65},{"l":10,"r":6,"d":0.5},{"l":11,"r":6,"d":0.55},{"l":12,"r":6,"d":0.6},{"l":13,"r":6,"d":0.7},{"l":14,"r":6,"d":0.6},{"l":15,"r":6,"d":0.65},{"l":9,"r":11,"d":0.2},{"l":10,"r":11,"d":0.28},{"l":11,"r":11,"d":0.22},{"l":12,"r":11,"d":0.2},{"l":13,"r":11,"d":0.1},{"l":14,"r":11,"d":0.1},{"l":15,"r":11,"d":0.15}],
"blot2":[{"l":1,"r":1,"d":1},{"l":2,"r":1,"d":0.2},{"l":3,"r":1,"d":0.2},{"l":4,"r":1,"d":0.18},{"l":5,"r":1,"d":0.18},{"l":6,"r":1,"d":0.18},{"l":7,"r":1,"d":0.18},{"l":8,"r":1,"d":0.18},{"l":9,"r":1,"d":0.18},{"l":10,"r":1,"d":0.18},{"l":11,"r":1,"d":0.18},{"l":12,"r":1,"d":0.18},{"l":13,"r":1,"d":0.18},{"l":14,"r":1,"d":0.18},{"l":15,"r":1,"d":0.2},{"l":2,"r":4,"d":0.95},{"l":3,"r":4,"d":0.95},{"l":4,"r":4,"d":0.95},{"l":5,"r":4,"d":0.95},{"l":6,"r":4,"d":0.95},{"l":7,"r":4,"d":0.95},{"l":8,"r":4,"d":0.95},{"l":9,"r":4,"d":0.6},{"l":10,"r":4,"d":0.65},{"l":11,"r":4,"d":0.65},{"l":12,"r":4,"d":0.65},{"l":13,"r":4,"d":0.7},{"l":14,"r":4,"d":0.7},{"l":15,"r":4,"d":0.75},{"l":2,"r":5,"d":1},{"l":3,"r":5,"d":1},{"l":4,"r":5,"d":1},{"l":5,"r":5,"d":1},{"l":6,"r":5,"d":1},{"l":7,"r":5,"d":1},{"l":8,"r":5,"d":1},{"l":9,"r":5,"d":1},{"l":10,"r":5,"d":1},{"l":11,"r":5,"d":1},{"l":12,"r":5,"d":1},{"l":13,"r":5,"d":1},{"l":14,"r":5,"d":1},{"l":15,"r":5,"d":1},{"l":2,"r":6,"d":0.9},{"l":3,"r":6,"d":1},{"l":4,"r":6,"d":1},{"l":5,"r":6,"d":1},{"l":6,"r":6,"d":1},{"l":7,"r":6,"d":1},{"l":8,"r":6,"d":1},{"l":9,"r":6,"d":0.95},{"l":10,"r":6,"d":1},{"l":11,"r":6,"d":1},{"l":12,"r":6,"d":1},{"l":13,"r":6,"d":1},{"l":14,"r":6,"d":0.95},{"l":15,"r":6,"d":0.85},{"l":9,"r":9,"d":0.95},{"l":10,"r":9,"d":0.95},{"l":11,"r":9,"d":0.95},{"l":12,"r":9,"d":0.9},{"l":13,"r":9,"d":0.5},{"l":14,"r":9,"d":0.45},{"l":15,"r":9,"d":0.8}],
"blot3":[{"l":1,"r":1,"d":0.1},{"l":2,"r":1,"d":0.62},{"l":3,"r":1,"d":0.65},{"l":4,"r":1,"d":0.6},{"l":5,"r":1,"d":0.6},{"l":6,"r":1,"d":0.58},{"l":7,"r":1,"d":0.58},{"l":8,"r":1,"d":0.6},{"l":9,"r":1,"d":0.55},{"l":10,"r":1,"d":0.58},{"l":11,"r":1,"d":0.58},{"l":12,"r":1,"d":0.55},{"l":13,"r":1,"d":0.55},{"l":14,"r":1,"d":0.6},{"l":15,"r":1,"d":0.55},{"l":2,"r":3,"d":0.4},{"l":3,"r":3,"d":0.42},{"l":4,"r":3,"d":0.4},{"l":5,"r":3,"d":0.38},{"l":6,"r":3,"d":0.36},{"l":7,"r":3,"d":0.36},{"l":8,"r":3,"d":0.38},{"l":9,"r":3,"d":0.28},{"l":10,"r":3,"d":0.35},{"l":11,"r":3,"d":0.32},{"l":12,"r":3,"d":0.3},{"l":13,"r":3,"d":0.35},{"l":14,"r":3,"d":0.4},{"l":15,"r":3,"d":0.35},{"l":2,"r":5,"d":0.45},{"l":3,"r":5,"d":0.5},{"l":4,"r":5,"d":0.42},{"l":5,"r":5,"d":0.42},{"l":6,"r":5,"d":0.4},{"l":7,"r":5,"d":0.4},{"l":8,"r":5,"d":0.45},{"l":9,"r":5,"d":0.35},{"l":10,"r":5,"d":0.42},{"l":11,"r":5,"d":0.4},{"l":12,"r":5,"d":0.35},{"l":13,"r":5,"d":0.4},{"l":14,"r":5,"d":0.5},{"l":15,"r":5,"d":0.5},{"l":2,"r":7,"d":0.75},{"l":3,"r":7,"d":0.75},{"l":4,"r":7,"d":0.7},{"l":5,"r":7,"d":0.65},{"l":6,"r":7,"d":0.7},{"l":7,"r":7,"d":0.7},{"l":8,"r":7,"d":0.7},{"l":9,"r":7,"d":0.65},{"l":10,"r":7,"d":0.7},{"l":11,"r":7,"d":0.7},{"l":12,"r":7,"d":0.65},{"l":13,"r":7,"d":0.7},{"l":14,"r":7,"d":0.75},{"l":15,"r":7,"d":0.75},{"l":2,"r":9,"d":0.32},{"l":3,"r":9,"d":0.32},{"l":4,"r":9,"d":0.3},{"l":5,"r":9,"d":0.3},{"l":6,"r":9,"d":0.28},{"l":7,"r":9,"d":0.28},{"l":8,"r":9,"d":0.28},{"l":9,"r":9,"d":0.2},{"l":10,"r":9,"d":0.25},{"l":11,"r":9,"d":0.22},{"l":12,"r":9,"d":0.2},{"l":13,"r":9,"d":0.25},{"l":14,"r":9,"d":0.3},{"l":15,"r":9,"d":0.2},{"l":2,"r":11,"d":0.35},{"l":3,"r":11,"d":0.32},{"l":4,"r":11,"d":0.25},{"l":5,"r":11,"d":0.25},{"l":6,"r":11,"d":0.25},{"l":7,"r":11,"d":0.25},{"l":8,"r":11,"d":0.25},{"l":9,"r":11,"d":0.35},{"l":10,"r":11,"d":0.35},{"l":11,"r":11,"d":0.35},{"l":12,"r":11,"d":0.35},{"l":13,"r":11,"d":0.25},{"l":14,"r":11,"d":0.3},{"l":15,"r":11,"d":0.35}]
},
"layer":[
{"data":{"name":"heatA"},"mark":"rect","encoding":{"x":{"field":"c","type":"ordinal","scale":{"type":"band","range":[80,382],"paddingInner":0,"paddingOuter":0},"axis":null},"y":{"field":"r","type":"ordinal","scale":{"type":"band","range":[74,444],"paddingInner":0,"paddingOuter":0},"axis":null},"color":{"field":"z","type":"quantitative","scale":{"domain":[-2,0,2],"range":["#0000ff","#ffffff","#ff0000"],"interpolate":"rgb"},"legend":null}}},
{"data":{"name":"key"},"mark":"rect","encoding":{"x":{"field":"z","type":"ordinal","scale":{"type":"band","range":[326,375],"paddingInner":0,"paddingOuter":0},"axis":{"orient":"bottom","offset":-1762,"values":[-2,2],"ticks":false,"domain":false,"labelAngle":0,"labelFontSize":23.5,"labelPadding":7,"title":"Row z-score","titleFontSize":24,"titleY":-26,"titleBaseline":"middle"}},"y":{"datum":"key","type":"nominal","scale":{"type":"band","range":[30,38],"paddingInner":0,"paddingOuter":0},"axis":null},"color":{"field":"z","type":"quantitative","scale":{"domain":[-2,0,2],"range":["#0000ff","#ffffff","#ff0000"],"interpolate":"rgb"},"legend":null}}},
{"data":{"name":"annA"},"encoding":{"x":{"field":"u","type":"quantitative","scale":{"domain":[0,8],"range":[80,382]},"axis":null},"y":{"field":"v","type":"quantitative","scale":{"domain":[0,50],"range":[74,444]},"axis":null}},"layer":[
{"transform":[{"filter":"datum.k=='t'"}],"mark":{"type":"text","fontSize":24.5,"dy":1.5},"encoding":{"text":{"field":"t"}}},
{"transform":[{"filter":"datum.k=='h'"}],"mark":{"type":"text","fontSize":34,"fontWeight":"bold","dy":2},"encoding":{"text":{"field":"t"}}},
{"transform":[{"filter":"datum.k=='g'"}],"mark":{"type":"text","fontSize":38,"angle":270,"dy":2},"encoding":{"text":{"field":"t"}}},
{"transform":[{"filter":"datum.k=='p'"}],"mark":{"type":"rule","stroke":"#9a1fe0","strokeWidth":2.5},"encoding":{"x2":{"field":"u2"},"y2":{"field":"v2"}}}]},
{"data":{"name":"go"},"encoding":{"y":{"field":"rank","type":"quantitative","scale":{"domain":[1,10],"range":[151.5,425]},"axis":null},"x":{"datum":0,"type":"quantitative","scale":{"domain":[0,1],"range":[402,1071]},"axis":null}},"layer":[
{"mark":{"type":"text","align":"left","fontSize":23.7,"dy":1.5},"encoding":{"text":{"field":"process"}}},
{"mark":{"type":"text","align":"left","fontSize":23.7,"dy":1.5},"encoding":{"x":{"datum":1,"type":"quantitative"},"text":{"field":"fold","format":".1f"}}}]},
{"data":{"name":"goHead"},"mark":{"type":"text","align":"left","fontSize":23.7,"dy":1.5},"encoding":{"y":{"field":"rank","type":"quantitative","scale":{"domain":[1,10],"range":[151.5,425]},"axis":null},"x":{"field":"col","type":"quantitative","scale":{"domain":[0,1],"range":[402,1071]},"axis":null},"text":{"field":"t"}}},
{"data":{"values":[{"col":-0.003,"col2":1.297,"rank":0.447}]},"mark":{"type":"rule","strokeWidth":2.2,"stroke":"#000"},"encoding":{"y":{"field":"rank","type":"quantitative","scale":{"domain":[1,10],"range":[151.5,425]},"axis":null},"x":{"field":"col","type":"quantitative","scale":{"domain":[0,1],"range":[402,1071]},"axis":null},"x2":{"field":"col2"}}},
{"data":{"name":"heatOx"},"mark":"rect","encoding":{"x":{"field":"c","type":"ordinal","scale":{"type":"band","range":[69.4,321.6],"paddingInner":0,"paddingOuter":0},"axis":null},"y":{"field":"r","type":"ordinal","scale":{"type":"band","range":[613.3,795],"paddingInner":0,"paddingOuter":0},"axis":null},"color":{"field":"z","type":"quantitative","scale":{"domain":[-2,0,2],"range":["#0000ff","#ffffff","#ff0000"],"interpolate":"rgb"},"legend":null}}},
{"data":{"name":"heatFao"},"mark":"rect","encoding":{"x":{"field":"c","type":"ordinal","scale":{"type":"band","range":[333.5,474.7],"paddingInner":0,"paddingOuter":0},"axis":null},"y":{"field":"r","type":"ordinal","scale":{"type":"band","range":[613.3,795],"paddingInner":0,"paddingOuter":0},"axis":null},"color":{"field":"z","type":"quantitative","scale":{"domain":[-2,0,2],"range":["#0000ff","#ffffff","#ff0000"],"interpolate":"rgb"},"legend":null}}},
{"data":{"name":"heatTca"},"mark":"rect","encoding":{"x":{"field":"c","type":"ordinal","scale":{"type":"band","range":[487,548],"paddingInner":0,"paddingOuter":0},"axis":null},"y":{"field":"r","type":"ordinal","scale":{"type":"band","range":[613.3,795],"paddingInner":0,"paddingOuter":0},"axis":null},"color":{"field":"z","type":"quantitative","scale":{"domain":[-1.5,0,1.5],"range":["#0000ff","#ffffff","#ff0000"],"interpolate":"rgb"},"legend":null}}},
{"data":{"name":"sideB"},"mark":"rect","encoding":{"x":{"field":"u","type":"quantitative","scale":{"domain":[0,36],"range":[69.4,321.6]},"axis":null},"x2":{"field":"u2"},"y":{"datum":8.08,"type":"quantitative","scale":{"domain":[0,8],"range":[613.3,795]},"axis":null},"y2":{"datum":8.48},"color":{"field":"cl","type":"nominal","scale":{"domain":["a","b"],"range":["#a020f0","#ff0000"]},"legend":null}}},
{"data":{"name":"annB"},"encoding":{"x":{"field":"u","type":"quantitative","scale":{"domain":[0,36],"range":[69.4,321.6]},"axis":null},"y":{"field":"v","type":"quantitative","scale":{"domain":[0,8],"range":[613.3,795]},"axis":null}},"layer":[
{"transform":[{"filter":"datum.k=='t'"}],"mark":{"type":"text","fontSize":23.7,"dy":1.5},"encoding":{"text":{"field":"t"}}},
{"transform":[{"filter":"datum.k=='h'"}],"mark":{"type":"text","fontSize":34,"fontWeight":"bold"},"encoding":{"text":{"field":"t"}}},
{"transform":[{"filter":"datum.k=='r'"}],"mark":{"type":"text","fontSize":23.7,"angle":270,"dy":1.5},"encoding":{"text":{"field":"t"}}},
{"transform":[{"filter":"datum.k=='l'"}],"mark":{"type":"rule","stroke":"#111","strokeWidth":2},"encoding":{"x2":{"field":"u2"},"y2":{"field":"v2"}}}]},
{"data":{"name":"key"},"mark":"rect","encoding":{"x":{"field":"z","type":"ordinal","scale":{"type":"band","range":[112.6,160.8],"paddingInner":0,"paddingOuter":0},"axis":{"orient":"bottom","offset":-941,"values":[-2,2],"ticks":false,"domain":false,"labelAngle":0,"labelFontSize":23.5,"labelPadding":6,"title":"Row z-score","titleFontSize":24,"titleY":-26,"titleBaseline":"middle"}},"y":{"datum":"key","type":"nominal","scale":{"type":"band","range":[851,859],"paddingInner":0,"paddingOuter":0},"axis":null},"color":{"field":"z","type":"quantitative","scale":{"domain":[-2,0,2],"range":["#0000ff","#ffffff","#ff0000"],"interpolate":"rgb"},"legend":null}}},
{"data":{"name":"key"},"mark":"rect","encoding":{"x":{"field":"z","type":"ordinal","scale":{"type":"band","range":[378.8,427.3],"paddingInner":0,"paddingOuter":0},"axis":{"orient":"bottom","offset":-941,"values":[-2,2],"ticks":false,"domain":false,"labelAngle":0,"labelFontSize":23.5,"labelPadding":6,"title":"Row z-score","titleFontSize":24,"titleY":-26,"titleBaseline":"middle"}},"y":{"datum":"key","type":"nominal","scale":{"type":"band","range":[851,859],"paddingInner":0,"paddingOuter":0},"axis":null},"color":{"field":"z","type":"quantitative","scale":{"domain":[-2,0,2],"range":["#0000ff","#ffffff","#ff0000"],"interpolate":"rgb"},"legend":null}}},
{"data":{"name":"keyT"},"mark":"rect","encoding":{"x":{"field":"z","type":"ordinal","scale":{"type":"band","range":[533.5,582],"paddingInner":0,"paddingOuter":0},"axis":{"orient":"bottom","offset":-943.3,"values":[-1.5,1.5],"ticks":false,"domain":false,"labelAngle":0,"labelFontSize":23.5,"labelPadding":6,"title":"Row z-score","titleFontSize":24,"titleY":-26,"titleBaseline":"middle"}},"y":{"datum":"key","type":"nominal","scale":{"type":"band","range":[848.7,856.7],"paddingInner":0,"paddingOuter":0},"axis":null},"color":{"field":"z","type":"quantitative","scale":{"domain":[-1.5,0,1.5],"range":["#0000ff","#ffffff","#ff0000"],"interpolate":"rgb"},"legend":null}}},

{"data":{"name":"cBars"},"encoding":{"x":{"field":"gene","type":"nominal","sort":null,"scale":{"type":"band","domain":["Atp5b","Cox6a2","Acsl1","Acsl3","Cpt1b","Acadm","Acadl"],"range":[741.8,1041.4],"paddingInner":0,"paddingOuter":0},"axis":{"orient":"bottom","offset":-1040.7,"title":null,"labelAngle":-45,"labelFontSize":25,"labelFontStyle":"italic","labelPadding":4,"zindex":1}},"xOffset":{"field":"group","type":"nominal","scale":{"type":"band","domain":["AAV-Luc","AAV-Cre"],"range":[7.1,35.7],"paddingInner":0,"paddingOuter":0}},"y":{"field":"mean","type":"quantitative","scale":{"domain":[0,1.5],"range":[759.3,575.7]},"axis":{"orient":"left","offset":-742,"values":[0,0.5,1,1.5],"format":".1f","labelFontSize":21,"title":"Normalized AU","titleFontSize":19,"titlePadding":8,"zindex":1}}},"layer":[
{"mark":{"type":"bar","stroke":"#333","strokeWidth":1.2},"encoding":{"color":{"field":"group","type":"nominal","scale":{"domain":["AAV-Luc","AAV-Cre"],"range":["#ffffff","#000000"]},"legend":{"orient":"none","legendX":1053,"legendY":519,"title":null,"symbolType":"square","symbolSize":676,"symbolStrokeColor":"#222","symbolStrokeWidth":1.5,"labelFontSize":24.7,"labelColor":"#000","rowPadding":0.4,"labelOffset":4}}}},
{"mark":{"type":"rule","stroke":"#222","strokeWidth":1.2},"encoding":{"y2":{"field":"top"}}},
{"mark":{"type":"tick","orient":"horizontal","color":"#222","size":8,"thickness":1.2},"encoding":{"y":{"field":"top","type":"quantitative"}}}]},
{"data":{"name":"cDots"},"mark":{"type":"point","filled":true,"size":12,"stroke":"#000","strokeWidth":0.8,"opacity":1},"encoding":{"x":{"field":"gene","type":"nominal","sort":null,"scale":{"type":"band","domain":["Atp5b","Cox6a2","Acsl1","Acsl3","Cpt1b","Acadm","Acadl"],"range":[741.8,1041.4],"paddingInner":0,"paddingOuter":0},"axis":null},"xOffset":{"field":"j","type":"quantitative","scale":{"domain":[-1.5,1.5],"range":[0,42.8]}},"y":{"field":"v","type":"quantitative","scale":{"domain":[0,1.5],"range":[759.3,575.7]},"axis":null},"color":{"field":"g","type":"nominal","scale":{"domain":["L","C"],"range":["#000000","#ffffff"]},"legend":null}}},
{"data":{"name":"cP"},"encoding":{"x":{"field":"gene","type":"nominal","sort":null,"scale":{"type":"band","domain":["Atp5b","Cox6a2","Acsl1","Acsl3","Cpt1b","Acadm","Acadl"],"range":[741.8,1041.4],"paddingInner":0,"paddingOuter":0},"axis":null},"y":{"field":"y","type":"quantitative","scale":{"domain":[0,1.5],"range":[759.3,575.7]},"axis":null}},"layer":[
{"mark":{"type":"tick","orient":"horizontal","color":"#000","size":28,"thickness":2.2}},
{"mark":{"type":"text","angle":270,"align":"left","fontSize":14,"dx":4,"dy":3},"encoding":{"text":{"field":"p"}}}]},
{"data":{"name":"annC"},"encoding":{"x":{"field":"u","type":"quantitative","scale":{"domain":[0,7],"range":[741.8,1041.4]},"axis":null},"y":{"field":"v","type":"quantitative","scale":{"domain":[0,1.5],"range":[759.3,575.7]},"axis":null}},"layer":[
{"transform":[{"filter":"datum.k=='t'"}],"mark":{"type":"text","fontSize":24,"dy":1.5},"encoding":{"text":{"field":"t"}}},
{"transform":[{"filter":"datum.k=='h'"}],"mark":{"type":"text","fontSize":34,"fontWeight":"bold"},"encoding":{"text":{"field":"t"}}},
{"transform":[{"filter":"datum.k=='l'"}],"mark":{"type":"rule","stroke":"#111","strokeWidth":2},"encoding":{"x2":{"field":"u2"},"y2":{"field":"v2"}}}]},

{"data":{"name":"dBars"},"encoding":{"x":{"field":"gene","type":"nominal","sort":null,"scale":{"type":"band","domain":["Tnni3","Myl2","Mybpc3","Atp2a2","Kcnq1","Myh6"],"range":[156.5,438.5],"paddingInner":0,"paddingOuter":0},"axis":{"orient":"bottom","offset":-611.7,"title":null,"labelAngle":-45,"labelFontSize":25,"labelFontStyle":"italic","labelPadding":4,"zindex":1}},"xOffset":{"field":"group","type":"nominal","scale":{"type":"band","domain":["AAV-Luc","AAV-Cre"],"range":[8.1,38.9],"paddingInner":0,"paddingOuter":0}},"y":{"field":"mean","type":"quantitative","scale":{"domain":[0,1.5],"range":[1188.3,991]},"axis":{"orient":"left","offset":-157,"values":[0,0.5,1,1.5],"format":".1f","labelFontSize":19.5,"title":"Normalized  AU","titleFontSize":18,"titlePadding":10,"zindex":1}}},"layer":[
{"mark":{"type":"bar","stroke":"#333","strokeWidth":1.2},"encoding":{"color":{"field":"group","type":"nominal","scale":{"domain":["AAV-Luc","AAV-Cre"],"range":["#ffffff","#000000"]},"legend":null}}},
{"mark":{"type":"rule","stroke":"#222","strokeWidth":1.2},"encoding":{"y2":{"field":"top"}}},
{"mark":{"type":"tick","orient":"horizontal","color":"#222","size":8,"thickness":1.2},"encoding":{"y":{"field":"top","type":"quantitative"}}}]},
{"data":{"name":"dDots"},"mark":{"type":"point","filled":true,"size":12,"stroke":"#000","strokeWidth":0.8,"opacity":1},"encoding":{"x":{"field":"gene","type":"nominal","sort":null,"scale":{"type":"band","domain":["Tnni3","Myl2","Mybpc3","Atp2a2","Kcnq1","Myh6"],"range":[156.5,438.5],"paddingInner":0,"paddingOuter":0},"axis":null},"xOffset":{"field":"j","type":"quantitative","scale":{"domain":[-1.5,1.5],"range":[0.4,46.6]}},"y":{"field":"v","type":"quantitative","scale":{"domain":[0,1.5],"range":[1188.3,991]},"axis":null},"color":{"field":"g","type":"nominal","scale":{"domain":["L","C"],"range":["#000000","#ffffff"]},"legend":null}}},
{"data":{"name":"dP"},"encoding":{"x":{"field":"gene","type":"nominal","sort":null,"scale":{"type":"band","domain":["Tnni3","Myl2","Mybpc3","Atp2a2","Kcnq1","Myh6"],"range":[156.5,438.5],"paddingInner":0,"paddingOuter":0},"axis":null},"y":{"field":"y","type":"quantitative","scale":{"domain":[0,1.5],"range":[1188.3,991]},"axis":null}},"layer":[
{"mark":{"type":"tick","orient":"horizontal","color":"#000","size":28,"thickness":2.2}},
{"mark":{"type":"text","angle":270,"align":"left","fontSize":14,"dx":5,"dy":3},"encoding":{"text":{"field":"p"}}}]},
{"data":{"name":"annD"},"encoding":{"x":{"field":"u","type":"quantitative","scale":{"domain":[0,6],"range":[156.5,438.5]},"axis":null},"y":{"field":"v","type":"quantitative","scale":{"domain":[0,1.5],"range":[1188.3,991]},"axis":null}},"layer":[
{"transform":[{"filter":"datum.k=='t'"}],"mark":{"type":"text","fontSize":23.7,"dy":1.5},"encoding":{"text":{"field":"t"}}},
{"transform":[{"filter":"datum.k=='h'"}],"mark":{"type":"text","fontSize":34,"fontWeight":"bold","dy":1},"encoding":{"text":{"field":"t"}}},
{"transform":[{"filter":"datum.k=='l'"}],"mark":{"type":"rule","stroke":"#111","strokeWidth":2},"encoding":{"x2":{"field":"u2"},"y2":{"field":"v2"}}}]},

{"data":{"name":"fBars"},"encoding":{"x":{"field":"gene","type":"nominal","sort":null,"scale":{"type":"band","domain":["Tnni1","Myl7","Myl1","Tnnt2 ex5","Myh7","Nppa","Nppb"],"range":[152.8,457.8],"paddingInner":0,"paddingOuter":0},"axis":{"orient":"bottom","offset":-176.3,"title":null,"labelAngle":-45,"labelFontSize":25.5,"labelFontStyle":"italic","labelPadding":4,"zindex":1}},"xOffset":{"field":"group","type":"nominal","scale":{"type":"band","domain":["AAV-Luc","AAV-Cre"],"range":[7.5,36.1],"paddingInner":0,"paddingOuter":0}},"y":{"field":"mean","type":"quantitative","scale":{"domain":[0,7.5],"range":[1623.7,1472.2],"clamp":true},"axis":{"orient":"left","offset":-154,"values":[0,1,2,3,4,5,6,7,7.5],"labelExpr":"datum.value==7.5?'':datum.label","labelFontSize":21,"title":"Normalized AU","titleFontSize":19.5,"titleY":1513,"titleX":-41,"zindex":1}}},"layer":[
{"mark":{"type":"bar","stroke":"#333","strokeWidth":1.2},"encoding":{"color":{"field":"group","type":"nominal","scale":{"domain":["AAV-Luc","AAV-Cre"],"range":["#ffffff","#000000"]},"legend":null}}},
{"transform":[{"filter":"datum.top<8"}],"mark":{"type":"rule","stroke":"#222","strokeWidth":1.2},"encoding":{"y2":{"field":"top"}}},
{"transform":[{"filter":"datum.top<8"}],"mark":{"type":"tick","orient":"horizontal","color":"#222","size":8,"thickness":1.2},"encoding":{"y":{"field":"top","type":"quantitative"}}}]},
{"data":{"name":"fBars"},"transform":[{"filter":"datum.top>8"}],"encoding":{"x":{"field":"gene","type":"nominal","sort":null,"scale":{"type":"band","domain":["Tnni1","Myl7","Myl1","Tnnt2 ex5","Myh7","Nppa","Nppb"],"range":[152.8,457.8],"paddingInner":0,"paddingOuter":0},"axis":null},"xOffset":{"field":"group","type":"nominal","scale":{"type":"band","domain":["AAV-Luc","AAV-Cre"],"range":[7.5,36.1],"paddingInner":0,"paddingOuter":0}},"y":{"field":"mean","type":"quantitative","scale":{"domain":[10.7,80],"range":[1467.7,1410],"zero":false},"axis":{"orient":"left","offset":-154,"values":[10.7,40,80],"labelExpr":"datum.value<11?'':datum.label","labelFontSize":21,"title":null,"zindex":1}}},"layer":[
{"mark":{"type":"bar","color":"#000"},"encoding":{"y2":{"datum":10.7}}},
{"mark":{"type":"rule","stroke":"#222","strokeWidth":1.2},"encoding":{"y2":{"field":"top"}}},
{"mark":{"type":"tick","orient":"horizontal","color":"#222","size":8,"thickness":1.2},"encoding":{"y":{"field":"top","type":"quantitative"}}}]},
{"data":{"name":"fDots"},"transform":[{"filter":"datum.v<10"}],"mark":{"type":"point","filled":true,"size":12,"stroke":"#000","strokeWidth":0.8,"opacity":1},"encoding":{"x":{"field":"gene","type":"nominal","sort":null,"scale":{"type":"band","domain":["Tnni1","Myl7","Myl1","Tnnt2 ex5","Myh7","Nppa","Nppb"],"range":[152.8,457.8],"paddingInner":0,"paddingOuter":0},"axis":null},"xOffset":{"field":"j","type":"quantitative","scale":{"domain":[-1.5,1.5],"range":[0.35,43.25]}},"y":{"field":"v","type":"quantitative","scale":{"domain":[0,7.5],"range":[1623.7,1472.2]},"axis":null},"color":{"field":"g","type":"nominal","scale":{"domain":["L","C"],"range":["#000000","#ffffff"]},"legend":null}}},
{"data":{"name":"fDots"},"transform":[{"filter":"datum.v>10"}],"mark":{"type":"point","filled":true,"size":12,"stroke":"#000","strokeWidth":0.8,"opacity":1,"color":"#fff"},"encoding":{"x":{"field":"gene","type":"nominal","sort":null,"scale":{"type":"band","domain":["Tnni1","Myl7","Myl1","Tnnt2 ex5","Myh7","Nppa","Nppb"],"range":[152.8,457.8],"paddingInner":0,"paddingOuter":0},"axis":null},"xOffset":{"field":"j","type":"quantitative","scale":{"domain":[-1.5,1.5],"range":[0.35,43.25]}},"y":{"field":"v","type":"quantitative","scale":{"domain":[10.7,80],"range":[1467.7,1410],"zero":false},"axis":null}}},
{"data":{"name":"fP"},"transform":[{"filter":"datum.y<10"}],"encoding":{"x":{"field":"gene","type":"nominal","sort":null,"scale":{"type":"band","domain":["Tnni1","Myl7","Myl1","Tnnt2 ex5","Myh7","Nppa","Nppb"],"range":[152.8,457.8],"paddingInner":0,"paddingOuter":0},"axis":null},"y":{"field":"y","type":"quantitative","scale":{"domain":[0,7.5],"range":[1623.7,1472.2]},"axis":null}},"layer":[
{"mark":{"type":"tick","orient":"horizontal","color":"#000","size":28,"thickness":2.2,"clip":false}},
{"mark":{"type":"text","angle":270,"align":"left","fontSize":14,"dx":4,"dy":6},"encoding":{"text":{"field":"p"}}}]},
{"data":{"name":"fP"},"transform":[{"filter":"datum.y>10"}],"encoding":{"x":{"field":"gene","type":"nominal","sort":null,"scale":{"type":"band","domain":["Tnni1","Myl7","Myl1","Tnnt2 ex5","Myh7","Nppa","Nppb"],"range":[152.8,457.8],"paddingInner":0,"paddingOuter":0},"axis":null},"y":{"field":"y","type":"quantitative","scale":{"domain":[10.7,80],"range":[1467.7,1410],"zero":false},"axis":null}},"layer":[
{"mark":{"type":"tick","orient":"horizontal","color":"#000","size":28,"thickness":2.2}},
{"mark":{"type":"text","angle":270,"align":"left","fontSize":14,"dx":4,"dy":6},"encoding":{"text":{"field":"p"}}}]},
{"data":{"name":"annF"},"encoding":{"x":{"field":"u","type":"quantitative","scale":{"domain":[0,7],"range":[152.8,457.8]},"axis":null},"y":{"field":"v","type":"quantitative","scale":{"domain":[0,7.5],"range":[1623.7,1472.2]},"axis":null}},"layer":[
{"transform":[{"filter":"datum.k=='t'"}],"mark":{"type":"text","fontSize":23.7,"dy":1.5},"encoding":{"text":{"field":"t"}}},
{"transform":[{"filter":"datum.k=='l'"}],"mark":{"type":"rule","stroke":"#111","strokeWidth":2},"encoding":{"x2":{"field":"u2"},"y2":{"field":"v2"}}}]},

{"data":{"name":"frames"},"mark":{"type":"rect","stroke":"#111","strokeWidth":1.8},"encoding":{"x":{"field":"u","type":"quantitative","scale":{"domain":[0,15],"range":[691.3,1132.8]},"axis":null},"x2":{"field":"u2"},"y":{"field":"v","type":"quantitative","scale":{"domain":[0,1],"range":[1077,1151]},"axis":null},"y2":{"field":"v2"},"color":{"field":"b","type":"nominal","scale":{"domain":["1","2","3"],"range":["#efefef","#e9e9e9","#dcdcdc"]},"legend":null}}},
{"data":{"name":"blot1"},"mark":"rect","encoding":{"x":{"field":"l","type":"ordinal","scale":{"type":"band","domain":[1,2,3,4,5,6,7,8,9,10,11,12,13,14,15],"range":[691.3,1132.8],"paddingInner":0.08,"paddingOuter":0.04},"axis":null},"y":{"field":"r","type":"ordinal","scale":{"type":"band","domain":[0,1,2,3,4,5,6,7,8,9,10,11,12,13,14],"range":[1077,1151],"paddingInner":0,"paddingOuter":0},"axis":{"orient":"left","offset":-691,"values":[1,6],"labelExpr":"datum.value==1?'30':'25'","ticks":false,"domain":false,"labelFontSize":23,"labelPadding":2,"labelAngle":0,"title":null}},"color":{"field":"d","type":"quantitative","scale":{"domain":[0,1],"range":["#efefef","#000000"],"interpolate":"rgb"},"legend":null}}},
{"data":{"name":"blot2"},"mark":"rect","encoding":{"x":{"field":"l","type":"ordinal","scale":{"type":"band","domain":[1,2,3,4,5,6,7,8,9,10,11,12,13,14,15],"range":[691.3,1132.8],"paddingInner":0.02,"paddingOuter":0.04},"axis":null},"y":{"field":"r","type":"ordinal","scale":{"type":"band","domain":[0,1,2,3,4,5,6,7,8,9,10,11],"range":[1155,1227],"paddingInner":0,"paddingOuter":0},"axis":{"orient":"left","offset":-691,"values":[1,5],"labelExpr":"datum.value==1?'30':'25'","ticks":false,"domain":false,"labelFontSize":23,"labelPadding":2,"labelAngle":0,"title":null}},"color":{"field":"d","type":"quantitative","scale":{"domain":[0,1],"range":["#e9e9e9","#000000"],"interpolate":"rgb"},"legend":null}}},
{"data":{"name":"blot3"},"mark":"rect","encoding":{"x":{"field":"l","type":"ordinal","scale":{"type":"band","domain":[1,2,3,4,5,6,7,8,9,10,11,12,13,14,15],"range":[691.3,1132.8],"paddingInner":0.08,"paddingOuter":0.04},"axis":null},"y":{"field":"r","type":"ordinal","scale":{"type":"band","domain":[0,1,2,3,4,5,6,7,8,9,10,11],"range":[1232,1311],"paddingInner":0,"paddingOuter":0},"axis":{"orient":"left","offset":-691,"values":[2,5],"labelExpr":"datum.value==2?'30':'25'","ticks":false,"domain":false,"labelFontSize":23,"labelPadding":2,"labelAngle":0,"title":null}},"color":{"field":"d","type":"quantitative","scale":{"domain":[0,1],"range":["#dcdcdc","#000000"],"interpolate":"rgb"},"legend":null}}},
{"data":{"name":"annBlot"},"encoding":{"x":{"field":"u","type":"quantitative","scale":{"domain":[0,15],"range":[691.3,1132.8]},"axis":null},"y":{"field":"v","type":"quantitative","scale":{"domain":[0,1],"range":[1077,1151]},"axis":null}},"layer":[
{"transform":[{"filter":"datum.k=='t'"}],"mark":{"type":"text","fontSize":23.7,"dy":1.5},"encoding":{"text":{"field":"t"}}},
{"transform":[{"filter":"datum.k=='a'"}],"mark":{"type":"text","fontSize":24,"align":"left","dy":1},"encoding":{"text":{"field":"t"}}},
{"transform":[{"filter":"datum.k=='h'"}],"mark":{"type":"text","fontSize":34,"fontWeight":"bold","dy":2},"encoding":{"text":{"field":"t"}}},
{"transform":[{"filter":"datum.k=='s'"}],"mark":{"type":"text","fontSize":20,"angle":270},"encoding":{"text":{"field":"t"}}},
{"transform":[{"filter":"datum.k=='l'"}],"mark":{"type":"rule","stroke":"#111","strokeWidth":2},"encoding":{"x2":{"field":"u2"},"y2":{"field":"v2"}}}]},

{"data":{"name":"eBars"},"encoding":{"x":{"field":"group","type":"nominal","sort":null,"scale":{"type":"band","domain":["AAV-Luc","AAV-Cre"],"range":[826,934],"paddingInner":0,"paddingOuter":0.5},"axis":{"orient":"bottom","offset":-232,"labels":false,"title":"Tnni3","titleFontSize":23.7,"titlePadding":4,"zindex":1}},"y":{"field":"mean","type":"quantitative","scale":{"domain":[0,1.5],"range":[1568,1376]},"axis":{"orient":"left","offset":-826,"values":[0,0.5,1,1.5],"format":".1f","labelFontSize":22,"title":"Normalized AU","titleFontSize":19.5,"titlePadding":8,"zindex":1}}},"layer":[
{"mark":{"type":"bar","stroke":"#333","strokeWidth":1.4},"encoding":{"color":{"field":"group","type":"nominal","scale":{"domain":["AAV-Luc","AAV-Cre"],"range":["#ffffff","#000000"]},"legend":{"orient":"none","legendX":966,"legendY":1367,"title":null,"symbolType":"square","symbolSize":676,"symbolStrokeColor":"#222","symbolStrokeWidth":1.5,"labelFontSize":24.7,"labelColor":"#000","rowPadding":0.4,"labelOffset":4}}}},
{"mark":{"type":"rule","stroke":"#222","strokeWidth":1.2},"encoding":{"y2":{"field":"top"}}},
{"mark":{"type":"tick","orient":"horizontal","color":"#222","size":14,"thickness":1.2},"encoding":{"y":{"field":"top","type":"quantitative"}}}]},
{"data":{"name":"eDots"},"mark":{"type":"point","filled":true,"size":34,"stroke":"#000","strokeWidth":0.8,"opacity":1},"encoding":{"x":{"field":"group","type":"nominal","sort":null,"scale":{"type":"band","domain":["AAV-Luc","AAV-Cre"],"range":[826,934],"paddingInner":0,"paddingOuter":0.5},"axis":null},"xOffset":{"field":"j","type":"quantitative","scale":{"domain":[-1,1],"range":[-18,54]}},"y":{"field":"v","type":"quantitative","scale":{"domain":[0,1.5],"range":[1568,1376]},"axis":null},"color":{"field":"group","type":"nominal","scale":{"domain":["AAV-Luc","AAV-Cre"],"range":["#000000","#ffffff"]},"legend":null}}},
{"data":{"name":"annE"},"encoding":{"x":{"field":"u","type":"quantitative","scale":{"domain":[0,2],"range":[844,916]},"axis":null},"y":{"field":"v","type":"quantitative","scale":{"domain":[0,1.5],"range":[1568,1376]},"axis":null}},"layer":[
{"transform":[{"filter":"datum.k=='pi'"}],"mark":{"type":"text","fontSize":24.5,"align":"left","fontStyle":"italic"},"encoding":{"text":{"field":"t"}}},
{"transform":[{"filter":"datum.k=='pv'"}],"mark":{"type":"text","fontSize":24.5,"align":"left"},"encoding":{"text":{"field":"t"}}},
{"transform":[{"filter":"datum.k=='l'"}],"mark":{"type":"rule","stroke":"#111","strokeWidth":2.2},"encoding":{"x2":{"field":"u2"},"y2":{"field":"v2"}}}]}
]}
